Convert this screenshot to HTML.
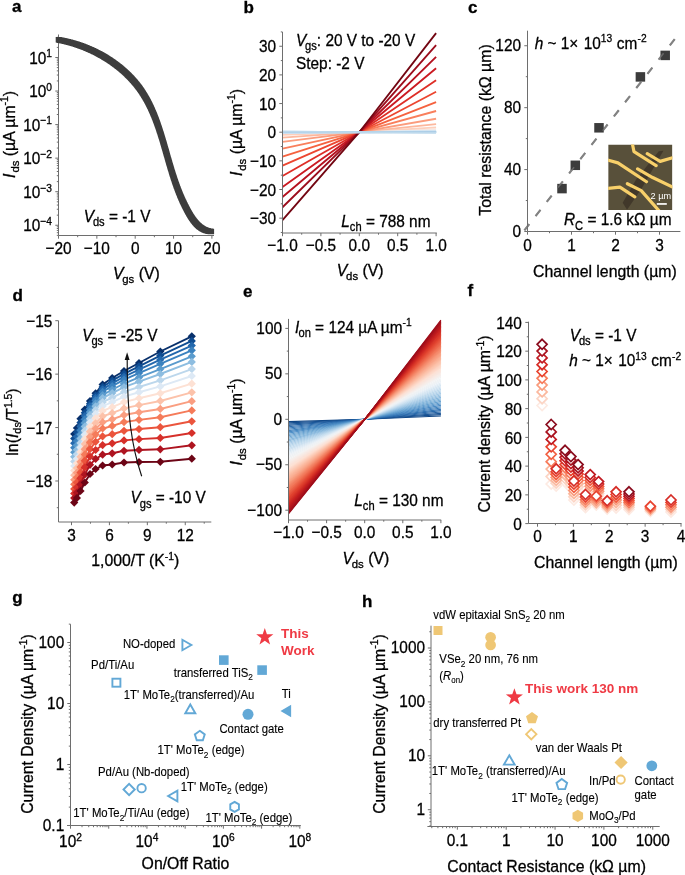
<!DOCTYPE html>
<html><head><meta charset="utf-8"><style>
html,body{margin:0;padding:0;background:#fff;}
svg{display:block;font-family:"Liberation Sans", sans-serif;will-change:transform;}
</style></head><body>
<svg width="685" height="875" viewBox="0 0 685 875">
<rect width="685" height="875" fill="#fff"/>
<text x="12" y="12" font-size="17" text-anchor="start" font-weight="bold" fill="#000" stroke="#000" stroke-width="0.3" >a</text>
<line x1="58.5" y1="235.5" x2="214" y2="235.5" stroke="#6e6e6e" stroke-width="1.0" />
<line x1="58.5" y1="235.5" x2="58.5" y2="238.7" stroke="#6e6e6e" stroke-width="1.0" />
<line x1="96.85" y1="235.5" x2="96.85" y2="238.7" stroke="#6e6e6e" stroke-width="1.0" />
<line x1="135.2" y1="235.5" x2="135.2" y2="238.7" stroke="#6e6e6e" stroke-width="1.0" />
<line x1="173.55" y1="235.5" x2="173.55" y2="238.7" stroke="#6e6e6e" stroke-width="1.0" />
<line x1="211.9" y1="235.5" x2="211.9" y2="238.7" stroke="#6e6e6e" stroke-width="1.0" />
<line x1="77.67" y1="235.5" x2="77.67" y2="237.2" stroke="#6e6e6e" stroke-width="1.0" />
<line x1="116.02" y1="235.5" x2="116.02" y2="237.2" stroke="#6e6e6e" stroke-width="1.0" />
<line x1="154.38" y1="235.5" x2="154.38" y2="237.2" stroke="#6e6e6e" stroke-width="1.0" />
<line x1="192.72" y1="235.5" x2="192.72" y2="237.2" stroke="#6e6e6e" stroke-width="1.0" />
<text transform="translate(58.5,254.1) scale(0.89,1)" font-size="17.3" text-anchor="middle" font-weight="normal" fill="#000" stroke="#000" stroke-width="0.3" >−20</text>
<text transform="translate(96.85,254.1) scale(0.89,1)" font-size="17.3" text-anchor="middle" font-weight="normal" fill="#000" stroke="#000" stroke-width="0.3" >−10</text>
<text transform="translate(135.2,254.1) scale(0.89,1)" font-size="17.3" text-anchor="middle" font-weight="normal" fill="#000" stroke="#000" stroke-width="0.3" >0</text>
<text transform="translate(173.55,254.1) scale(0.89,1)" font-size="17.3" text-anchor="middle" font-weight="normal" fill="#000" stroke="#000" stroke-width="0.3" >10</text>
<text transform="translate(211.9,254.1) scale(0.89,1)" font-size="17.3" text-anchor="middle" font-weight="normal" fill="#000" stroke="#000" stroke-width="0.3" >20</text>
<line x1="58.5" y1="34.5" x2="58.5" y2="235.5" stroke="#6e6e6e" stroke-width="1.0" />
<line x1="55.3" y1="225.25" x2="58.5" y2="225.25" stroke="#6e6e6e" stroke-width="1.0" />
<line x1="55.3" y1="191.7" x2="58.5" y2="191.7" stroke="#6e6e6e" stroke-width="1.0" />
<line x1="55.3" y1="158.15" x2="58.5" y2="158.15" stroke="#6e6e6e" stroke-width="1.0" />
<line x1="55.3" y1="124.6" x2="58.5" y2="124.6" stroke="#6e6e6e" stroke-width="1.0" />
<line x1="55.3" y1="91.05" x2="58.5" y2="91.05" stroke="#6e6e6e" stroke-width="1.0" />
<line x1="55.3" y1="57.5" x2="58.5" y2="57.5" stroke="#6e6e6e" stroke-width="1.0" />
<line x1="56.8" y1="235.35" x2="58.5" y2="235.35" stroke="#6e6e6e" stroke-width="1.0" />
<line x1="56.8" y1="232.69" x2="58.5" y2="232.69" stroke="#6e6e6e" stroke-width="1.0" />
<line x1="56.8" y1="230.45" x2="58.5" y2="230.45" stroke="#6e6e6e" stroke-width="1.0" />
<line x1="56.8" y1="228.5" x2="58.5" y2="228.5" stroke="#6e6e6e" stroke-width="1.0" />
<line x1="56.8" y1="226.79" x2="58.5" y2="226.79" stroke="#6e6e6e" stroke-width="1.0" />
<line x1="56.8" y1="215.15" x2="58.5" y2="215.15" stroke="#6e6e6e" stroke-width="1.0" />
<line x1="56.8" y1="209.24" x2="58.5" y2="209.24" stroke="#6e6e6e" stroke-width="1.0" />
<line x1="56.8" y1="205.05" x2="58.5" y2="205.05" stroke="#6e6e6e" stroke-width="1.0" />
<line x1="56.8" y1="201.8" x2="58.5" y2="201.8" stroke="#6e6e6e" stroke-width="1.0" />
<line x1="56.8" y1="199.14" x2="58.5" y2="199.14" stroke="#6e6e6e" stroke-width="1.0" />
<line x1="56.8" y1="196.9" x2="58.5" y2="196.9" stroke="#6e6e6e" stroke-width="1.0" />
<line x1="56.8" y1="194.95" x2="58.5" y2="194.95" stroke="#6e6e6e" stroke-width="1.0" />
<line x1="56.8" y1="193.24" x2="58.5" y2="193.24" stroke="#6e6e6e" stroke-width="1.0" />
<line x1="56.8" y1="181.6" x2="58.5" y2="181.6" stroke="#6e6e6e" stroke-width="1.0" />
<line x1="56.8" y1="175.69" x2="58.5" y2="175.69" stroke="#6e6e6e" stroke-width="1.0" />
<line x1="56.8" y1="171.5" x2="58.5" y2="171.5" stroke="#6e6e6e" stroke-width="1.0" />
<line x1="56.8" y1="168.25" x2="58.5" y2="168.25" stroke="#6e6e6e" stroke-width="1.0" />
<line x1="56.8" y1="165.59" x2="58.5" y2="165.59" stroke="#6e6e6e" stroke-width="1.0" />
<line x1="56.8" y1="163.35" x2="58.5" y2="163.35" stroke="#6e6e6e" stroke-width="1.0" />
<line x1="56.8" y1="161.4" x2="58.5" y2="161.4" stroke="#6e6e6e" stroke-width="1.0" />
<line x1="56.8" y1="159.69" x2="58.5" y2="159.69" stroke="#6e6e6e" stroke-width="1.0" />
<line x1="56.8" y1="148.05" x2="58.5" y2="148.05" stroke="#6e6e6e" stroke-width="1.0" />
<line x1="56.8" y1="142.14" x2="58.5" y2="142.14" stroke="#6e6e6e" stroke-width="1.0" />
<line x1="56.8" y1="137.95" x2="58.5" y2="137.95" stroke="#6e6e6e" stroke-width="1.0" />
<line x1="56.8" y1="134.7" x2="58.5" y2="134.7" stroke="#6e6e6e" stroke-width="1.0" />
<line x1="56.8" y1="132.04" x2="58.5" y2="132.04" stroke="#6e6e6e" stroke-width="1.0" />
<line x1="56.8" y1="129.8" x2="58.5" y2="129.8" stroke="#6e6e6e" stroke-width="1.0" />
<line x1="56.8" y1="127.85" x2="58.5" y2="127.85" stroke="#6e6e6e" stroke-width="1.0" />
<line x1="56.8" y1="126.14" x2="58.5" y2="126.14" stroke="#6e6e6e" stroke-width="1.0" />
<line x1="56.8" y1="114.5" x2="58.5" y2="114.5" stroke="#6e6e6e" stroke-width="1.0" />
<line x1="56.8" y1="108.59" x2="58.5" y2="108.59" stroke="#6e6e6e" stroke-width="1.0" />
<line x1="56.8" y1="104.4" x2="58.5" y2="104.4" stroke="#6e6e6e" stroke-width="1.0" />
<line x1="56.8" y1="101.15" x2="58.5" y2="101.15" stroke="#6e6e6e" stroke-width="1.0" />
<line x1="56.8" y1="98.49" x2="58.5" y2="98.49" stroke="#6e6e6e" stroke-width="1.0" />
<line x1="56.8" y1="96.25" x2="58.5" y2="96.25" stroke="#6e6e6e" stroke-width="1.0" />
<line x1="56.8" y1="94.3" x2="58.5" y2="94.3" stroke="#6e6e6e" stroke-width="1.0" />
<line x1="56.8" y1="92.59" x2="58.5" y2="92.59" stroke="#6e6e6e" stroke-width="1.0" />
<line x1="56.8" y1="80.95" x2="58.5" y2="80.95" stroke="#6e6e6e" stroke-width="1.0" />
<line x1="56.8" y1="75.04" x2="58.5" y2="75.04" stroke="#6e6e6e" stroke-width="1.0" />
<line x1="56.8" y1="70.85" x2="58.5" y2="70.85" stroke="#6e6e6e" stroke-width="1.0" />
<line x1="56.8" y1="67.6" x2="58.5" y2="67.6" stroke="#6e6e6e" stroke-width="1.0" />
<line x1="56.8" y1="64.94" x2="58.5" y2="64.94" stroke="#6e6e6e" stroke-width="1.0" />
<line x1="56.8" y1="62.7" x2="58.5" y2="62.7" stroke="#6e6e6e" stroke-width="1.0" />
<line x1="56.8" y1="60.75" x2="58.5" y2="60.75" stroke="#6e6e6e" stroke-width="1.0" />
<line x1="56.8" y1="59.04" x2="58.5" y2="59.04" stroke="#6e6e6e" stroke-width="1.0" />
<line x1="56.8" y1="47.4" x2="58.5" y2="47.4" stroke="#6e6e6e" stroke-width="1.0" />
<line x1="56.8" y1="41.49" x2="58.5" y2="41.49" stroke="#6e6e6e" stroke-width="1.0" />
<line x1="56.8" y1="37.3" x2="58.5" y2="37.3" stroke="#6e6e6e" stroke-width="1.0" />
<text transform="translate(52,231.45) scale(0.89,1)" font-size="17.3" text-anchor="end" font-weight="normal" fill="#000" stroke="#000" stroke-width="0.3" >10<tspan dy="-6.4" font-size="11.5">−4</tspan></text>
<text transform="translate(52,197.9) scale(0.89,1)" font-size="17.3" text-anchor="end" font-weight="normal" fill="#000" stroke="#000" stroke-width="0.3" >10<tspan dy="-6.4" font-size="11.5">−3</tspan></text>
<text transform="translate(52,164.35) scale(0.89,1)" font-size="17.3" text-anchor="end" font-weight="normal" fill="#000" stroke="#000" stroke-width="0.3" >10<tspan dy="-6.4" font-size="11.5">−2</tspan></text>
<text transform="translate(52,130.8) scale(0.89,1)" font-size="17.3" text-anchor="end" font-weight="normal" fill="#000" stroke="#000" stroke-width="0.3" >10<tspan dy="-6.4" font-size="11.5">−1</tspan></text>
<text transform="translate(52,97.25) scale(0.89,1)" font-size="17.3" text-anchor="end" font-weight="normal" fill="#000" stroke="#000" stroke-width="0.3" >10<tspan dy="-6.4" font-size="11.5">0</tspan></text>
<text transform="translate(52,63.7) scale(0.89,1)" font-size="17.3" text-anchor="end" font-weight="normal" fill="#000" stroke="#000" stroke-width="0.3" >10<tspan dy="-6.4" font-size="11.5">1</tspan></text>
<path d="M55.7 37.0h5.6v5.6h-5.6zM56.2 37.1h5.6v5.6h-5.6zM56.6 37.2h5.6v5.6h-5.6zM57.1 37.3h5.6v5.6h-5.6zM57.6 37.4h5.6v5.6h-5.6zM58.1 37.5h5.6v5.6h-5.6zM58.6 37.6h5.6v5.6h-5.6zM59.1 37.7h5.6v5.6h-5.6zM59.6 37.8h5.6v5.6h-5.6zM60.0 37.9h5.6v5.6h-5.6zM60.5 38.0h5.6v5.6h-5.6zM61.0 38.1h5.6v5.6h-5.6zM61.5 38.2h5.6v5.6h-5.6zM62.0 38.3h5.6v5.6h-5.6zM62.5 38.4h5.6v5.6h-5.6zM62.9 38.5h5.6v5.6h-5.6zM63.4 38.7h5.6v5.6h-5.6zM63.9 38.8h5.6v5.6h-5.6zM64.4 38.9h5.6v5.6h-5.6zM64.9 39.0h5.6v5.6h-5.6zM65.4 39.1h5.6v5.6h-5.6zM65.8 39.3h5.6v5.6h-5.6zM66.3 39.4h5.6v5.6h-5.6zM66.8 39.5h5.6v5.6h-5.6zM67.3 39.6h5.6v5.6h-5.6zM67.8 39.8h5.6v5.6h-5.6zM68.3 39.9h5.6v5.6h-5.6zM68.7 40.0h5.6v5.6h-5.6zM69.2 40.2h5.6v5.6h-5.6zM69.7 40.3h5.6v5.6h-5.6zM70.2 40.4h5.6v5.6h-5.6zM70.7 40.6h5.6v5.6h-5.6zM71.1 40.7h5.6v5.6h-5.6zM71.6 40.9h5.6v5.6h-5.6zM72.1 41.0h5.6v5.6h-5.6zM72.6 41.2h5.6v5.6h-5.6zM73.1 41.3h5.6v5.6h-5.6zM73.5 41.5h5.6v5.6h-5.6zM74.0 41.6h5.6v5.6h-5.6zM74.5 41.8h5.6v5.6h-5.6zM75.0 41.9h5.6v5.6h-5.6zM75.4 42.1h5.6v5.6h-5.6zM75.9 42.3h5.6v5.6h-5.6zM76.4 42.4h5.6v5.6h-5.6zM76.9 42.6h5.6v5.6h-5.6zM77.3 42.8h5.6v5.6h-5.6zM77.8 42.9h5.6v5.6h-5.6zM78.3 43.1h5.6v5.6h-5.6zM78.7 43.3h5.6v5.6h-5.6zM79.2 43.4h5.6v5.6h-5.6zM79.7 43.6h5.6v5.6h-5.6zM80.2 43.8h5.6v5.6h-5.6zM80.6 44.0h5.6v5.6h-5.6zM81.1 44.2h5.6v5.6h-5.6zM81.6 44.3h5.6v5.6h-5.6zM82.0 44.5h5.6v5.6h-5.6zM82.5 44.7h5.6v5.6h-5.6zM83.0 44.9h5.6v5.6h-5.6zM83.4 45.1h5.6v5.6h-5.6zM83.9 45.3h5.6v5.6h-5.6zM84.4 45.5h5.6v5.6h-5.6zM84.8 45.7h5.6v5.6h-5.6zM85.3 45.9h5.6v5.6h-5.6zM85.8 46.1h5.6v5.6h-5.6zM86.2 46.3h5.6v5.6h-5.6zM86.7 46.5h5.6v5.6h-5.6zM87.1 46.7h5.6v5.6h-5.6zM87.6 46.9h5.6v5.6h-5.6zM88.1 47.1h5.6v5.6h-5.6zM88.5 47.3h5.6v5.6h-5.6zM89.0 47.5h5.6v5.6h-5.6zM89.4 47.7h5.6v5.6h-5.6zM89.9 47.9h5.6v5.6h-5.6zM90.4 48.1h5.6v5.6h-5.6zM90.8 48.4h5.6v5.6h-5.6zM91.3 48.6h5.6v5.6h-5.6zM91.7 48.8h5.6v5.6h-5.6zM92.2 49.0h5.6v5.6h-5.6zM92.6 49.2h5.6v5.6h-5.6zM93.1 49.5h5.6v5.6h-5.6zM93.5 49.7h5.6v5.6h-5.6zM94.0 49.9h5.6v5.6h-5.6zM94.4 50.2h5.6v5.6h-5.6zM94.9 50.4h5.6v5.6h-5.6zM95.3 50.6h5.6v5.6h-5.6zM95.8 50.9h5.6v5.6h-5.6zM96.2 51.1h5.6v5.6h-5.6zM96.6 51.3h5.6v5.6h-5.6zM97.1 51.6h5.6v5.6h-5.6zM97.5 51.8h5.6v5.6h-5.6zM98.0 52.1h5.6v5.6h-5.6zM98.4 52.3h5.6v5.6h-5.6zM98.9 52.5h5.6v5.6h-5.6zM99.3 52.8h5.6v5.6h-5.6zM99.7 53.0h5.6v5.6h-5.6zM100.2 53.3h5.6v5.6h-5.6zM100.6 53.5h5.6v5.6h-5.6zM101.0 53.8h5.6v5.6h-5.6zM101.5 54.1h5.6v5.6h-5.6zM101.9 54.3h5.6v5.6h-5.6zM102.3 54.6h5.6v5.6h-5.6zM102.8 54.8h5.6v5.6h-5.6zM103.2 55.1h5.6v5.6h-5.6zM103.6 55.4h5.6v5.6h-5.6zM104.0 55.6h5.6v5.6h-5.6zM104.5 55.9h5.6v5.6h-5.6zM104.9 56.2h5.6v5.6h-5.6zM105.3 56.4h5.6v5.6h-5.6zM105.7 56.7h5.6v5.6h-5.6zM106.2 57.0h5.6v5.6h-5.6zM106.6 57.3h5.6v5.6h-5.6zM107.0 57.5h5.6v5.6h-5.6zM107.4 57.8h5.6v5.6h-5.6zM107.8 58.1h5.6v5.6h-5.6zM108.3 58.4h5.6v5.6h-5.6zM108.7 58.7h5.6v5.6h-5.6zM109.1 58.9h5.6v5.6h-5.6zM109.5 59.2h5.6v5.6h-5.6zM109.9 59.5h5.6v5.6h-5.6zM110.3 59.8h5.6v5.6h-5.6zM110.7 60.1h5.6v5.6h-5.6zM111.1 60.4h5.6v5.6h-5.6zM111.5 60.7h5.6v5.6h-5.6zM111.9 61.0h5.6v5.6h-5.6zM112.3 61.3h5.6v5.6h-5.6zM112.7 61.6h5.6v5.6h-5.6zM113.2 61.9h5.6v5.6h-5.6zM113.6 62.2h5.6v5.6h-5.6zM113.9 62.5h5.6v5.6h-5.6zM114.3 62.8h5.6v5.6h-5.6zM114.7 63.1h5.6v5.6h-5.6zM115.1 63.4h5.6v5.6h-5.6zM115.5 63.7h5.6v5.6h-5.6zM115.9 64.0h5.6v5.6h-5.6zM116.3 64.3h5.6v5.6h-5.6zM116.7 64.6h5.6v5.6h-5.6zM117.1 65.0h5.6v5.6h-5.6zM117.5 65.3h5.6v5.6h-5.6zM117.9 65.6h5.6v5.6h-5.6zM118.2 65.9h5.6v5.6h-5.6zM118.6 66.2h5.6v5.6h-5.6zM119.0 66.6h5.6v5.6h-5.6zM119.4 66.9h5.6v5.6h-5.6zM119.8 67.2h5.6v5.6h-5.6zM120.1 67.5h5.6v5.6h-5.6zM120.5 67.9h5.6v5.6h-5.6zM120.9 68.2h5.6v5.6h-5.6zM121.3 68.5h5.6v5.6h-5.6zM121.6 68.9h5.6v5.6h-5.6zM122.0 69.2h5.6v5.6h-5.6zM122.4 69.5h5.6v5.6h-5.6zM122.7 69.9h5.6v5.6h-5.6zM123.1 70.2h5.6v5.6h-5.6zM123.5 70.5h5.6v5.6h-5.6zM123.8 70.9h5.6v5.6h-5.6zM124.2 71.2h5.6v5.6h-5.6zM124.5 71.6h5.6v5.6h-5.6zM124.9 71.9h5.6v5.6h-5.6zM125.2 72.3h5.6v5.6h-5.6zM125.6 72.6h5.6v5.6h-5.6zM125.9 73.0h5.6v5.6h-5.6zM126.3 73.3h5.6v5.6h-5.6zM126.6 73.7h5.6v5.6h-5.6zM127.0 74.0h5.6v5.6h-5.6zM127.3 74.4h5.6v5.6h-5.6zM127.7 74.7h5.6v5.6h-5.6zM128.0 75.1h5.6v5.6h-5.6zM128.4 75.5h5.6v5.6h-5.6zM128.7 75.8h5.6v5.6h-5.6zM129.0 76.2h5.6v5.6h-5.6zM129.4 76.6h5.6v5.6h-5.6zM129.7 76.9h5.6v5.6h-5.6zM130.0 77.3h5.6v5.6h-5.6zM130.4 77.7h5.6v5.6h-5.6zM130.7 78.0h5.6v5.6h-5.6zM131.0 78.4h5.6v5.6h-5.6zM131.3 78.8h5.6v5.6h-5.6zM131.7 79.1h5.6v5.6h-5.6zM132.0 79.5h5.6v5.6h-5.6zM132.3 79.9h5.6v5.6h-5.6zM132.6 80.3h5.6v5.6h-5.6zM132.9 80.7h5.6v5.6h-5.6zM133.2 81.0h5.6v5.6h-5.6zM133.6 81.4h5.6v5.6h-5.6zM133.9 81.8h5.6v5.6h-5.6zM134.2 82.2h5.6v5.6h-5.6zM134.5 82.6h5.6v5.6h-5.6zM134.8 83.0h5.6v5.6h-5.6zM135.1 83.4h5.6v5.6h-5.6zM135.4 83.8h5.6v5.6h-5.6zM135.7 84.1h5.6v5.6h-5.6zM136.0 84.5h5.6v5.6h-5.6zM136.3 84.9h5.6v5.6h-5.6zM136.6 85.3h5.6v5.6h-5.6zM136.9 85.7h5.6v5.6h-5.6zM137.1 86.1h5.6v5.6h-5.6zM137.4 86.5h5.6v5.6h-5.6zM137.7 86.9h5.6v5.6h-5.6zM138.0 87.3h5.6v5.6h-5.6zM138.3 87.7h5.6v5.6h-5.6zM138.6 88.1h5.6v5.6h-5.6zM138.8 88.5h5.6v5.6h-5.6zM139.1 89.0h5.6v5.6h-5.6zM139.4 89.4h5.6v5.6h-5.6zM139.6 89.8h5.6v5.6h-5.6zM139.9 90.2h5.6v5.6h-5.6zM140.2 90.6h5.6v5.6h-5.6zM140.4 91.0h5.6v5.6h-5.6zM140.7 91.4h5.6v5.6h-5.6zM141.0 91.9h5.6v5.6h-5.6zM141.2 92.3h5.6v5.6h-5.6zM141.5 92.7h5.6v5.6h-5.6zM141.7 93.1h5.6v5.6h-5.6zM142.0 93.5h5.6v5.6h-5.6zM142.2 94.0h5.6v5.6h-5.6zM142.5 94.4h5.6v5.6h-5.6zM142.7 94.8h5.6v5.6h-5.6zM143.0 95.2h5.6v5.6h-5.6zM143.2 95.7h5.6v5.6h-5.6zM143.5 96.1h5.6v5.6h-5.6zM143.7 96.5h5.6v5.6h-5.6zM144.0 96.9h5.6v5.6h-5.6zM144.2 97.4h5.6v5.6h-5.6zM144.4 97.8h5.6v5.6h-5.6zM144.7 98.2h5.6v5.6h-5.6zM144.9 98.7h5.6v5.6h-5.6zM145.1 99.1h5.6v5.6h-5.6zM145.4 99.6h5.6v5.6h-5.6zM145.6 100.0h5.6v5.6h-5.6zM145.8 100.4h5.6v5.6h-5.6zM146.0 100.9h5.6v5.6h-5.6zM146.3 101.3h5.6v5.6h-5.6zM146.5 101.8h5.6v5.6h-5.6zM146.7 102.2h5.6v5.6h-5.6zM146.9 102.6h5.6v5.6h-5.6zM147.1 103.1h5.6v5.6h-5.6zM147.3 103.5h5.6v5.6h-5.6zM147.6 104.0h5.6v5.6h-5.6zM147.8 104.4h5.6v5.6h-5.6zM148.0 104.9h5.6v5.6h-5.6zM148.2 105.3h5.6v5.6h-5.6zM148.4 105.8h5.6v5.6h-5.6zM148.6 106.2h5.6v5.6h-5.6zM148.8 106.7h5.6v5.6h-5.6zM149.0 107.1h5.6v5.6h-5.6zM149.2 107.6h5.6v5.6h-5.6zM149.4 108.0h5.6v5.6h-5.6zM149.6 108.5h5.6v5.6h-5.6zM149.8 109.0h5.6v5.6h-5.6zM150.0 109.4h5.6v5.6h-5.6zM150.2 109.9h5.6v5.6h-5.6zM150.4 110.3h5.6v5.6h-5.6zM150.6 110.8h5.6v5.6h-5.6zM150.8 111.3h5.6v5.6h-5.6zM151.0 111.7h5.6v5.6h-5.6zM151.2 112.2h5.6v5.6h-5.6zM151.4 112.6h5.6v5.6h-5.6zM151.6 113.1h5.6v5.6h-5.6zM151.7 113.6h5.6v5.6h-5.6zM151.9 114.0h5.6v5.6h-5.6zM152.1 114.5h5.6v5.6h-5.6zM152.3 115.0h5.6v5.6h-5.6zM152.5 115.4h5.6v5.6h-5.6zM152.7 115.9h5.6v5.6h-5.6zM152.8 116.4h5.6v5.6h-5.6zM153.0 116.8h5.6v5.6h-5.6zM153.2 117.3h5.6v5.6h-5.6zM153.4 117.8h5.6v5.6h-5.6zM153.5 118.2h5.6v5.6h-5.6zM153.7 118.7h5.6v5.6h-5.6zM153.9 119.2h5.6v5.6h-5.6zM154.1 119.7h5.6v5.6h-5.6zM154.2 120.1h5.6v5.6h-5.6zM154.4 120.6h5.6v5.6h-5.6zM154.6 121.1h5.6v5.6h-5.6zM154.7 121.6h5.6v5.6h-5.6zM154.9 122.0h5.6v5.6h-5.6zM155.1 122.5h5.6v5.6h-5.6zM155.2 123.0h5.6v5.6h-5.6zM155.4 123.5h5.6v5.6h-5.6zM155.6 123.9h5.6v5.6h-5.6zM155.7 124.4h5.6v5.6h-5.6zM155.9 124.9h5.6v5.6h-5.6zM156.1 125.4h5.6v5.6h-5.6zM156.2 125.8h5.6v5.6h-5.6zM156.4 126.3h5.6v5.6h-5.6zM156.5 126.8h5.6v5.6h-5.6zM156.7 127.3h5.6v5.6h-5.6zM156.8 127.8h5.6v5.6h-5.6zM157.0 128.2h5.6v5.6h-5.6zM157.2 128.7h5.6v5.6h-5.6zM157.3 129.2h5.6v5.6h-5.6zM157.5 129.7h5.6v5.6h-5.6zM157.6 130.2h5.6v5.6h-5.6zM157.8 130.7h5.6v5.6h-5.6zM157.9 131.1h5.6v5.6h-5.6zM158.1 131.6h5.6v5.6h-5.6zM158.2 132.1h5.6v5.6h-5.6zM158.4 132.6h5.6v5.6h-5.6zM158.5 133.1h5.6v5.6h-5.6zM158.7 133.5h5.6v5.6h-5.6zM158.8 134.0h5.6v5.6h-5.6zM159.0 134.5h5.6v5.6h-5.6zM159.1 135.0h5.6v5.6h-5.6zM159.3 135.5h5.6v5.6h-5.6zM159.4 136.0h5.6v5.6h-5.6zM159.6 136.5h5.6v5.6h-5.6zM159.7 136.9h5.6v5.6h-5.6zM159.9 137.4h5.6v5.6h-5.6zM160.0 137.9h5.6v5.6h-5.6zM160.2 138.4h5.6v5.6h-5.6zM160.3 138.9h5.6v5.6h-5.6zM160.4 139.4h5.6v5.6h-5.6zM160.6 139.9h5.6v5.6h-5.6zM160.7 140.3h5.6v5.6h-5.6zM160.9 140.8h5.6v5.6h-5.6zM161.0 141.3h5.6v5.6h-5.6zM161.2 141.8h5.6v5.6h-5.6zM161.3 142.3h5.6v5.6h-5.6zM161.4 142.8h5.6v5.6h-5.6zM161.6 143.3h5.6v5.6h-5.6zM161.7 143.8h5.6v5.6h-5.6zM161.9 144.2h5.6v5.6h-5.6zM162.0 144.7h5.6v5.6h-5.6zM162.1 145.2h5.6v5.6h-5.6zM162.3 145.7h5.6v5.6h-5.6zM162.4 146.2h5.6v5.6h-5.6zM162.6 146.7h5.6v5.6h-5.6zM162.7 147.2h5.6v5.6h-5.6zM162.8 147.6h5.6v5.6h-5.6zM163.0 148.1h5.6v5.6h-5.6zM163.1 148.6h5.6v5.6h-5.6zM163.3 149.1h5.6v5.6h-5.6zM163.4 149.6h5.6v5.6h-5.6zM163.5 150.1h5.6v5.6h-5.6zM163.7 150.6h5.6v5.6h-5.6zM163.8 151.1h5.6v5.6h-5.6zM164.0 151.5h5.6v5.6h-5.6zM164.1 152.0h5.6v5.6h-5.6zM164.2 152.5h5.6v5.6h-5.6zM164.4 153.0h5.6v5.6h-5.6zM164.5 153.5h5.6v5.6h-5.6zM164.6 154.0h5.6v5.6h-5.6zM164.8 154.5h5.6v5.6h-5.6zM164.9 154.9h5.6v5.6h-5.6zM165.1 155.4h5.6v5.6h-5.6zM165.2 155.9h5.6v5.6h-5.6zM165.3 156.4h5.6v5.6h-5.6zM165.5 156.9h5.6v5.6h-5.6zM165.6 157.4h5.6v5.6h-5.6zM165.8 157.8h5.6v5.6h-5.6zM165.9 158.3h5.6v5.6h-5.6zM166.0 158.8h5.6v5.6h-5.6zM166.2 159.3h5.6v5.6h-5.6zM166.3 159.8h5.6v5.6h-5.6zM166.5 160.3h5.6v5.6h-5.6zM166.6 160.7h5.6v5.6h-5.6zM166.7 161.2h5.6v5.6h-5.6zM166.9 161.7h5.6v5.6h-5.6zM167.0 162.2h5.6v5.6h-5.6zM167.2 162.7h5.6v5.6h-5.6zM167.3 163.1h5.6v5.6h-5.6zM167.4 163.6h5.6v5.6h-5.6zM167.6 164.1h5.6v5.6h-5.6zM167.7 164.6h5.6v5.6h-5.6zM167.9 165.1h5.6v5.6h-5.6zM168.0 165.5h5.6v5.6h-5.6zM168.2 166.0h5.6v5.6h-5.6zM168.3 166.5h5.6v5.6h-5.6zM168.5 167.0h5.6v5.6h-5.6zM168.6 167.5h5.6v5.6h-5.6zM168.7 167.9h5.6v5.6h-5.6zM168.9 168.4h5.6v5.6h-5.6zM169.0 168.9h5.6v5.6h-5.6zM169.2 169.4h5.6v5.6h-5.6zM169.3 169.8h5.6v5.6h-5.6zM169.5 170.3h5.6v5.6h-5.6zM169.6 170.8h5.6v5.6h-5.6zM169.8 171.3h5.6v5.6h-5.6zM169.9 171.7h5.6v5.6h-5.6zM170.1 172.2h5.6v5.6h-5.6zM170.2 172.7h5.6v5.6h-5.6zM170.4 173.2h5.6v5.6h-5.6zM170.5 173.6h5.6v5.6h-5.6zM170.7 174.1h5.6v5.6h-5.6zM170.8 174.6h5.6v5.6h-5.6zM171.0 175.1h5.6v5.6h-5.6zM171.2 175.5h5.6v5.6h-5.6zM171.3 176.0h5.6v5.6h-5.6zM171.5 176.5h5.6v5.6h-5.6zM171.6 177.0h5.6v5.6h-5.6zM171.8 177.4h5.6v5.6h-5.6zM171.9 177.9h5.6v5.6h-5.6zM172.1 178.4h5.6v5.6h-5.6zM172.3 178.8h5.6v5.6h-5.6zM172.4 179.3h5.6v5.6h-5.6zM172.6 179.8h5.6v5.6h-5.6zM172.7 180.2h5.6v5.6h-5.6zM172.9 180.7h5.6v5.6h-5.6zM173.1 181.2h5.6v5.6h-5.6zM173.2 181.7h5.6v5.6h-5.6zM173.4 182.1h5.6v5.6h-5.6zM173.6 182.6h5.6v5.6h-5.6zM173.7 183.1h5.6v5.6h-5.6zM173.9 183.5h5.6v5.6h-5.6zM174.1 184.0h5.6v5.6h-5.6zM174.3 184.5h5.6v5.6h-5.6zM174.4 184.9h5.6v5.6h-5.6zM174.6 185.4h5.6v5.6h-5.6zM174.8 185.9h5.6v5.6h-5.6zM175.0 186.3h5.6v5.6h-5.6zM175.1 186.8h5.6v5.6h-5.6zM175.3 187.2h5.6v5.6h-5.6zM175.5 187.7h5.6v5.6h-5.6zM175.7 188.2h5.6v5.6h-5.6zM175.8 188.6h5.6v5.6h-5.6zM176.0 189.1h5.6v5.6h-5.6zM176.2 189.6h5.6v5.6h-5.6zM176.4 190.0h5.6v5.6h-5.6zM176.6 190.5h5.6v5.6h-5.6zM176.8 190.9h5.6v5.6h-5.6zM177.0 191.4h5.6v5.6h-5.6zM177.1 191.9h5.6v5.6h-5.6zM177.3 192.3h5.6v5.6h-5.6zM177.5 192.8h5.6v5.6h-5.6zM177.7 193.2h5.6v5.6h-5.6zM177.9 193.7h5.6v5.6h-5.6zM178.1 194.2h5.6v5.6h-5.6zM178.3 194.6h5.6v5.6h-5.6zM178.5 195.1h5.6v5.6h-5.6zM178.7 195.5h5.6v5.6h-5.6zM178.9 196.0h5.6v5.6h-5.6zM179.1 196.5h5.6v5.6h-5.6zM179.3 196.9h5.6v5.6h-5.6zM179.5 197.4h5.6v5.6h-5.6zM179.7 197.8h5.6v5.6h-5.6zM179.9 198.3h5.6v5.6h-5.6zM180.1 198.7h5.6v5.6h-5.6zM180.3 199.2h5.6v5.6h-5.6zM180.6 199.6h5.6v5.6h-5.6zM180.8 200.1h5.6v5.6h-5.6zM181.0 200.5h5.6v5.6h-5.6zM181.2 201.0h5.6v5.6h-5.6zM181.4 201.4h5.6v5.6h-5.6zM181.6 201.9h5.6v5.6h-5.6zM181.9 202.3h5.6v5.6h-5.6zM182.1 202.8h5.6v5.6h-5.6zM182.3 203.2h5.6v5.6h-5.6zM182.5 203.7h5.6v5.6h-5.6zM182.8 204.1h5.6v5.6h-5.6zM183.0 204.6h5.6v5.6h-5.6zM183.2 205.0h5.6v5.6h-5.6zM183.5 205.5h5.6v5.6h-5.6zM183.7 205.9h5.6v5.6h-5.6zM183.9 206.4h5.6v5.6h-5.6zM184.2 206.8h5.6v5.6h-5.6zM184.4 207.3h5.6v5.6h-5.6zM184.6 207.7h5.6v5.6h-5.6zM184.9 208.2h5.6v5.6h-5.6zM185.1 208.6h5.6v5.6h-5.6zM185.4 209.1h5.6v5.6h-5.6zM185.6 209.5h5.6v5.6h-5.6zM185.9 209.9h5.6v5.6h-5.6zM186.1 210.4h5.6v5.6h-5.6zM186.4 210.8h5.6v5.6h-5.6zM186.6 211.3h5.6v5.6h-5.6zM186.9 211.7h5.6v5.6h-5.6zM187.1 212.1h5.6v5.6h-5.6zM187.4 212.6h5.6v5.6h-5.6zM187.7 213.0h5.6v5.6h-5.6zM187.9 213.4h5.6v5.6h-5.6zM188.2 213.9h5.6v5.6h-5.6zM188.5 214.3h5.6v5.6h-5.6zM188.8 214.7h5.6v5.6h-5.6zM189.0 215.1h5.6v5.6h-5.6zM189.3 215.5h5.6v5.6h-5.6zM189.6 216.0h5.6v5.6h-5.6zM189.9 216.4h5.6v5.6h-5.6zM190.2 216.8h5.6v5.6h-5.6zM190.5 217.2h5.6v5.6h-5.6zM190.8 217.6h5.6v5.6h-5.6zM191.1 218.0h5.6v5.6h-5.6zM191.4 218.4h5.6v5.6h-5.6zM191.7 218.7h5.6v5.6h-5.6zM192.0 219.1h5.6v5.6h-5.6zM192.3 219.5h5.6v5.6h-5.6zM192.6 219.9h5.6v5.6h-5.6zM192.9 220.2h5.6v5.6h-5.6zM193.3 220.6h5.6v5.6h-5.6zM193.6 221.0h5.6v5.6h-5.6zM193.9 221.3h5.6v5.6h-5.6zM194.3 221.7h5.6v5.6h-5.6zM194.6 222.0h5.6v5.6h-5.6zM194.9 222.3h5.6v5.6h-5.6zM195.3 222.7h5.6v5.6h-5.6zM195.6 223.0h5.6v5.6h-5.6zM196.0 223.3h5.6v5.6h-5.6zM196.4 223.6h5.6v5.6h-5.6zM196.7 223.9h5.6v5.6h-5.6zM197.1 224.2h5.6v5.6h-5.6zM197.5 224.5h5.6v5.6h-5.6zM197.9 224.7h5.6v5.6h-5.6zM198.2 225.0h5.6v5.6h-5.6zM198.6 225.3h5.6v5.6h-5.6zM199.0 225.5h5.6v5.6h-5.6zM199.4 225.8h5.6v5.6h-5.6zM199.8 226.0h5.6v5.6h-5.6zM200.2 226.2h5.6v5.6h-5.6zM200.6 226.5h5.6v5.6h-5.6zM201.1 226.7h5.6v5.6h-5.6zM201.5 226.9h5.6v5.6h-5.6zM201.9 227.1h5.6v5.6h-5.6zM202.4 227.2h5.6v5.6h-5.6zM202.8 227.4h5.6v5.6h-5.6zM203.2 227.6h5.6v5.6h-5.6zM203.7 227.7h5.6v5.6h-5.6zM204.2 227.9h5.6v5.6h-5.6zM204.6 228.0h5.6v5.6h-5.6zM205.1 228.1h5.6v5.6h-5.6zM205.6 228.3h5.6v5.6h-5.6zM206.0 228.4h5.6v5.6h-5.6zM206.5 228.4h5.6v5.6h-5.6zM207.0 228.5h5.6v5.6h-5.6zM207.5 228.6h5.6v5.6h-5.6zM208.0 228.7h5.6v5.6h-5.6zM208.5 228.7h5.6v5.6h-5.6z" fill="#3d3d3d"/>
<text transform="translate(83.8,221.9) scale(0.89,1)" font-size="17.3" text-anchor="start" font-weight="normal" fill="#000" stroke="#000" stroke-width="0.3" ><tspan font-style="italic">V</tspan><tspan dx="-1.3" dy="4.2" font-size="12.5">ds</tspan><tspan dy="-4.2"> = -1 V</tspan></text>
<text transform="translate(113,279.2) scale(0.99,1)" font-size="16" text-anchor="start" font-weight="normal" fill="#000" stroke="#000" stroke-width="0.3" ><tspan font-style="italic">V</tspan><tspan dx="-1.3" dy="3.8" font-size="11.5">gs</tspan><tspan dy="-3.8"> (V)</tspan></text>
<text transform="translate(14.7,134.4) rotate(-90) scale(0.99,1)" x="0" y="0" font-size="16" text-anchor="middle" fill="#000" stroke="#000" stroke-width="0.3"><tspan font-style="italic">I</tspan><tspan dx="0.9" dy="3.8" font-size="11.5">ds</tspan><tspan dy="-3.8"> (</tspan>µA µm<tspan dy="-6.5" font-size="10.5">-1</tspan><tspan dy="6.5">)</tspan></text>
<text x="243.5" y="13" font-size="17" text-anchor="start" font-weight="bold" fill="#000" stroke="#000" stroke-width="0.3" >b</text>
<polyline points="282.5,133.63 359.3,132.2 436.1,129.33" fill="none" stroke="#f8e3da" stroke-width="1.85"/>
<polyline points="282.5,134.78 359.3,132.2 436.1,127.33" fill="none" stroke="#fdd0bd" stroke-width="1.85"/>
<polyline points="282.5,137.64 359.3,132.2 436.1,124.18" fill="none" stroke="#fcb89e" stroke-width="1.85"/>
<polyline points="282.5,141.94 359.3,132.2 436.1,118.73" fill="none" stroke="#fb9c7d" stroke-width="1.85"/>
<polyline points="282.5,148.53 359.3,132.2 436.1,111" fill="none" stroke="#f97f5c" stroke-width="1.85"/>
<polyline points="282.5,156.55 359.3,132.2 436.1,102.12" fill="none" stroke="#f5623f" stroke-width="1.85"/>
<polyline points="282.5,165.72 359.3,132.2 436.1,91.8" fill="none" stroke="#ec4630" stroke-width="1.85"/>
<polyline points="282.5,176.03 359.3,132.2 436.1,80.34" fill="none" stroke="#de2e27" stroke-width="1.85"/>
<polyline points="282.5,186.92 359.3,132.2 436.1,68.31" fill="none" stroke="#cb1a22" stroke-width="1.85"/>
<polyline points="282.5,196.95 359.3,132.2 436.1,56.85" fill="none" stroke="#b5111f" stroke-width="1.85"/>
<polyline points="282.5,207.26 359.3,132.2 436.1,45.1" fill="none" stroke="#9c0d1d" stroke-width="1.85"/>
<polyline points="282.5,220.16 359.3,132.2 436.1,33.07" fill="none" stroke="#730612" stroke-width="1.85"/>
<polyline points="282.5,133.06 359.3,132.2 436.1,130.48" fill="none" stroke="#edf1f5" stroke-width="1.85"/>
<polyline points="282.5,132.77 359.3,132.2 436.1,131" fill="none" stroke="#e0ebf4" stroke-width="1.85"/>
<polyline points="282.5,132.54 359.3,132.2 436.1,131.28" fill="none" stroke="#d2e4f1" stroke-width="1.85"/>
<polyline points="282.5,132.34 359.3,132.2 436.1,131.57" fill="none" stroke="#c4dbed" stroke-width="1.85"/>
<polyline points="282.5,132.2 359.3,132.2 436.1,131.8" fill="none" stroke="#b5d2e9" stroke-width="1.85"/>
<polyline points="282.5,132.06 359.3,132.2 436.1,132" fill="none" stroke="#a9cbe5" stroke-width="1.85"/>
<polyline points="282.5,131.91 359.3,132.2 436.1,132.2" fill="none" stroke="#9dc4e2" stroke-width="1.85"/>
<polyline points="282.5,131.77 359.3,132.2 436.1,132.4" fill="none" stroke="#abcde7" stroke-width="1.85"/>
<polyline points="282.5,131.63 359.3,132.2 436.1,132.6" fill="none" stroke="#bdd9ec" stroke-width="1.85"/>
<line x1="282.5" y1="233" x2="436.8" y2="233" stroke="#6e6e6e" stroke-width="1.0" />
<line x1="282.5" y1="233" x2="282.5" y2="236.2" stroke="#6e6e6e" stroke-width="1.0" />
<line x1="320.9" y1="233" x2="320.9" y2="236.2" stroke="#6e6e6e" stroke-width="1.0" />
<line x1="359.3" y1="233" x2="359.3" y2="236.2" stroke="#6e6e6e" stroke-width="1.0" />
<line x1="397.7" y1="233" x2="397.7" y2="236.2" stroke="#6e6e6e" stroke-width="1.0" />
<line x1="436.1" y1="233" x2="436.1" y2="236.2" stroke="#6e6e6e" stroke-width="1.0" />
<line x1="301.7" y1="233" x2="301.7" y2="234.7" stroke="#6e6e6e" stroke-width="1.0" />
<line x1="340.1" y1="233" x2="340.1" y2="234.7" stroke="#6e6e6e" stroke-width="1.0" />
<line x1="378.5" y1="233" x2="378.5" y2="234.7" stroke="#6e6e6e" stroke-width="1.0" />
<line x1="416.9" y1="233" x2="416.9" y2="234.7" stroke="#6e6e6e" stroke-width="1.0" />
<text transform="translate(282.5,251.2) scale(0.89,1)" font-size="17.3" text-anchor="middle" font-weight="normal" fill="#000" stroke="#000" stroke-width="0.3" >−1.0</text>
<text transform="translate(320.9,251.2) scale(0.89,1)" font-size="17.3" text-anchor="middle" font-weight="normal" fill="#000" stroke="#000" stroke-width="0.3" >−0.5</text>
<text transform="translate(359.3,251.2) scale(0.89,1)" font-size="17.3" text-anchor="middle" font-weight="normal" fill="#000" stroke="#000" stroke-width="0.3" >0.0</text>
<text transform="translate(397.7,251.2) scale(0.89,1)" font-size="17.3" text-anchor="middle" font-weight="normal" fill="#000" stroke="#000" stroke-width="0.3" >0.5</text>
<text transform="translate(436.1,251.2) scale(0.89,1)" font-size="17.3" text-anchor="middle" font-weight="normal" fill="#000" stroke="#000" stroke-width="0.3" >1.0</text>
<line x1="282.5" y1="32" x2="282.5" y2="233" stroke="#6e6e6e" stroke-width="1.0" />
<line x1="279.3" y1="218.15" x2="282.5" y2="218.15" stroke="#6e6e6e" stroke-width="1.0" />
<line x1="279.3" y1="189.5" x2="282.5" y2="189.5" stroke="#6e6e6e" stroke-width="1.0" />
<line x1="279.3" y1="160.85" x2="282.5" y2="160.85" stroke="#6e6e6e" stroke-width="1.0" />
<line x1="279.3" y1="132.2" x2="282.5" y2="132.2" stroke="#6e6e6e" stroke-width="1.0" />
<line x1="279.3" y1="103.55" x2="282.5" y2="103.55" stroke="#6e6e6e" stroke-width="1.0" />
<line x1="279.3" y1="74.9" x2="282.5" y2="74.9" stroke="#6e6e6e" stroke-width="1.0" />
<line x1="279.3" y1="46.25" x2="282.5" y2="46.25" stroke="#6e6e6e" stroke-width="1.0" />
<line x1="280.8" y1="232.47" x2="282.5" y2="232.47" stroke="#6e6e6e" stroke-width="1.0" />
<line x1="280.8" y1="203.82" x2="282.5" y2="203.82" stroke="#6e6e6e" stroke-width="1.0" />
<line x1="280.8" y1="175.17" x2="282.5" y2="175.17" stroke="#6e6e6e" stroke-width="1.0" />
<line x1="280.8" y1="146.52" x2="282.5" y2="146.52" stroke="#6e6e6e" stroke-width="1.0" />
<line x1="280.8" y1="117.87" x2="282.5" y2="117.87" stroke="#6e6e6e" stroke-width="1.0" />
<line x1="280.8" y1="89.22" x2="282.5" y2="89.22" stroke="#6e6e6e" stroke-width="1.0" />
<line x1="280.8" y1="60.57" x2="282.5" y2="60.57" stroke="#6e6e6e" stroke-width="1.0" />
<line x1="280.8" y1="31.92" x2="282.5" y2="31.92" stroke="#6e6e6e" stroke-width="1.0" />
<text transform="translate(276,224.35) scale(0.89,1)" font-size="17.3" text-anchor="end" font-weight="normal" fill="#000" stroke="#000" stroke-width="0.3" >−30</text>
<text transform="translate(276,195.7) scale(0.89,1)" font-size="17.3" text-anchor="end" font-weight="normal" fill="#000" stroke="#000" stroke-width="0.3" >−20</text>
<text transform="translate(276,167.05) scale(0.89,1)" font-size="17.3" text-anchor="end" font-weight="normal" fill="#000" stroke="#000" stroke-width="0.3" >−10</text>
<text transform="translate(276,138.4) scale(0.89,1)" font-size="17.3" text-anchor="end" font-weight="normal" fill="#000" stroke="#000" stroke-width="0.3" >0</text>
<text transform="translate(276,109.75) scale(0.89,1)" font-size="17.3" text-anchor="end" font-weight="normal" fill="#000" stroke="#000" stroke-width="0.3" >10</text>
<text transform="translate(276,81.1) scale(0.89,1)" font-size="17.3" text-anchor="end" font-weight="normal" fill="#000" stroke="#000" stroke-width="0.3" >20</text>
<text transform="translate(276,52.45) scale(0.89,1)" font-size="17.3" text-anchor="end" font-weight="normal" fill="#000" stroke="#000" stroke-width="0.3" >30</text>
<text transform="translate(296,45.9) scale(0.89,1)" font-size="17.3" text-anchor="start" font-weight="normal" fill="#000" stroke="#000" stroke-width="0.3" ><tspan font-style="italic">V</tspan><tspan dx="-1.3" dy="4.2" font-size="12.5">gs</tspan><tspan dy="-4.2">: 20 V to -20 V</tspan></text>
<text transform="translate(296,69.2) scale(0.89,1)" font-size="17.3" text-anchor="start" font-weight="normal" fill="#000" stroke="#000" stroke-width="0.3" >Step: -2 V</text>
<text transform="translate(341.3,226.5) scale(0.89,1)" font-size="17.3" text-anchor="start" font-weight="normal" fill="#000" stroke="#000" stroke-width="0.3" ><tspan font-style="italic">L</tspan><tspan dx="0" dy="4.2" font-size="12.5">ch</tspan><tspan dy="-4.2"> = 788 nm</tspan></text>
<text transform="translate(336.8,275.9) scale(0.99,1)" font-size="16" text-anchor="start" font-weight="normal" fill="#000" stroke="#000" stroke-width="0.3" ><tspan font-style="italic">V</tspan><tspan dx="-1.3" dy="3.8" font-size="11.5">ds</tspan><tspan dy="-3.8"> (V)</tspan></text>
<text transform="translate(241.9,132.5) rotate(-90) scale(0.99,1)" x="0" y="0" font-size="16" text-anchor="middle" fill="#000" stroke="#000" stroke-width="0.3"><tspan font-style="italic">I</tspan><tspan dx="0.9" dy="3.8" font-size="11.5">ds</tspan><tspan dy="-3.8"> (</tspan>µA µm<tspan dy="-6.5" font-size="10.5">-1</tspan><tspan dy="6.5">)</tspan></text>
<text x="468" y="13" font-size="17" text-anchor="start" font-weight="bold" fill="#000" stroke="#000" stroke-width="0.3" >c</text>
<line x1="524.4" y1="230.3" x2="678.6" y2="34.2" stroke="#7a7a7a" stroke-width="2.1" stroke-dasharray="7.9 10.2"/>
<rect x="557.25" y="183.85" width="9.5" height="9.5" fill="#3c3c3c"/>
<rect x="570.55" y="160.55" width="9.5" height="9.5" fill="#3c3c3c"/>
<rect x="594.25" y="123.05" width="9.5" height="9.5" fill="#3c3c3c"/>
<rect x="635.65" y="72.15" width="9.5" height="9.5" fill="#3c3c3c"/>
<rect x="660.45" y="50.65" width="9.5" height="9.5" fill="#3c3c3c"/>
<line x1="524.4" y1="230.3" x2="678.6" y2="34.2" stroke="#8a8a8a" stroke-width="1.6" stroke-dasharray="7.9 10.2" opacity="0.55"/>
<line x1="527.5" y1="231.5" x2="680.4" y2="231.5" stroke="#6e6e6e" stroke-width="1.0" />
<line x1="527.5" y1="231.5" x2="527.5" y2="234.7" stroke="#6e6e6e" stroke-width="1.0" />
<line x1="571.5" y1="231.5" x2="571.5" y2="234.7" stroke="#6e6e6e" stroke-width="1.0" />
<line x1="615.5" y1="231.5" x2="615.5" y2="234.7" stroke="#6e6e6e" stroke-width="1.0" />
<line x1="659.5" y1="231.5" x2="659.5" y2="234.7" stroke="#6e6e6e" stroke-width="1.0" />
<line x1="549.5" y1="231.5" x2="549.5" y2="233.2" stroke="#6e6e6e" stroke-width="1.0" />
<line x1="593.5" y1="231.5" x2="593.5" y2="233.2" stroke="#6e6e6e" stroke-width="1.0" />
<line x1="637.5" y1="231.5" x2="637.5" y2="233.2" stroke="#6e6e6e" stroke-width="1.0" />
<text transform="translate(527.5,251.2) scale(0.89,1)" font-size="17.3" text-anchor="middle" font-weight="normal" fill="#000" stroke="#000" stroke-width="0.3" >0</text>
<text transform="translate(571.5,251.2) scale(0.89,1)" font-size="17.3" text-anchor="middle" font-weight="normal" fill="#000" stroke="#000" stroke-width="0.3" >1</text>
<text transform="translate(615.5,251.2) scale(0.89,1)" font-size="17.3" text-anchor="middle" font-weight="normal" fill="#000" stroke="#000" stroke-width="0.3" >2</text>
<text transform="translate(659.5,251.2) scale(0.89,1)" font-size="17.3" text-anchor="middle" font-weight="normal" fill="#000" stroke="#000" stroke-width="0.3" >3</text>
<line x1="527.5" y1="30.7" x2="527.5" y2="231.5" stroke="#6e6e6e" stroke-width="1.0" />
<line x1="524.3" y1="231.5" x2="527.5" y2="231.5" stroke="#6e6e6e" stroke-width="1.0" />
<line x1="524.3" y1="169.58" x2="527.5" y2="169.58" stroke="#6e6e6e" stroke-width="1.0" />
<line x1="524.3" y1="107.66" x2="527.5" y2="107.66" stroke="#6e6e6e" stroke-width="1.0" />
<line x1="524.3" y1="45.74" x2="527.5" y2="45.74" stroke="#6e6e6e" stroke-width="1.0" />
<line x1="525.8" y1="200.54" x2="527.5" y2="200.54" stroke="#6e6e6e" stroke-width="1.0" />
<line x1="525.8" y1="138.62" x2="527.5" y2="138.62" stroke="#6e6e6e" stroke-width="1.0" />
<line x1="525.8" y1="76.7" x2="527.5" y2="76.7" stroke="#6e6e6e" stroke-width="1.0" />
<text transform="translate(521,237.1) scale(0.89,1)" font-size="17.3" text-anchor="end" font-weight="normal" fill="#000" stroke="#000" stroke-width="0.3" >0</text>
<text transform="translate(521,175.18) scale(0.89,1)" font-size="17.3" text-anchor="end" font-weight="normal" fill="#000" stroke="#000" stroke-width="0.3" >40</text>
<text transform="translate(521,113.26) scale(0.89,1)" font-size="17.3" text-anchor="end" font-weight="normal" fill="#000" stroke="#000" stroke-width="0.3" >80</text>
<text transform="translate(521,51.34) scale(0.89,1)" font-size="17.3" text-anchor="end" font-weight="normal" fill="#000" stroke="#000" stroke-width="0.3" >120</text>
<text transform="translate(534.7,48.7) scale(0.89,1)" font-size="17.3" text-anchor="start" font-weight="normal" fill="#000" stroke="#000" stroke-width="0.3" ><tspan font-style="italic">h</tspan> ~ 1×<tspan dx="1.2"> 10</tspan><tspan dy="-6.4" font-size="11.5">13</tspan><tspan dx="0.3" dy="6.4"> cm</tspan><tspan dx="0.4" dy="-6.4" font-size="11.5">-2</tspan></text>
<text transform="translate(564,225.4) scale(0.89,1)" font-size="17.3" text-anchor="start" font-weight="normal" fill="#000" stroke="#000" stroke-width="0.3" ><tspan font-style="italic">R</tspan><tspan dx="0" dy="4.2" font-size="12.5">C</tspan><tspan dy="-4.2"> = 1.6 kΩ µm</tspan></text>
<text transform="translate(533,277.1) scale(0.99,1)" font-size="16" text-anchor="start" font-weight="normal" fill="#000" stroke="#000" stroke-width="0.3" >Channel length (µm)</text>
<text transform="translate(490.5,130) rotate(-90) scale(0.99,1)" x="0" y="0" font-size="16" text-anchor="middle" fill="#000" stroke="#000" stroke-width="0.3">Total resistance (kΩ µm)</text>
<defs><clipPath id="insclip"><rect x="608.2" y="144.5" width="64.2" height="65.5"/></clipPath></defs>
<g clip-path="url(#insclip)">
<rect x="608.2" y="144.5" width="64.2" height="65.5" fill="#58503a"/>
<polygon points="622.68,202.77 627.05,209.73 641.95,187.88 663.4,150.74 658.83,151.14 636.29,179.24" fill="#41382a"/>
<polyline points="632.02,142 634,151.73 656.15,165.63" fill="none" stroke="#f8d06a" stroke-width="3.2" stroke-linecap="round" stroke-linejoin="round"/>
<polyline points="647.21,153.72 660.12,161.36 675.51,156.9" fill="none" stroke="#f8d06a" stroke-width="3.2" stroke-linecap="round" stroke-linejoin="round"/>
<polyline points="606,159.68 617.92,162.85 646.52,181.72" fill="none" stroke="#f8d06a" stroke-width="3.2" stroke-linecap="round" stroke-linejoin="round"/>
<polyline points="637.58,168.81 652.67,177.55 675.51,188.47" fill="none" stroke="#f8d06a" stroke-width="3.2" stroke-linecap="round" stroke-linejoin="round"/>
<polyline points="606,188.47 619.9,187.18 634.8,196.82" fill="none" stroke="#f8d06a" stroke-width="3.2" stroke-linecap="round" stroke-linejoin="round"/>
<polyline points="627.35,183.71 641.25,190.66 659.62,211.51" fill="none" stroke="#f8d06a" stroke-width="3.2" stroke-linecap="round" stroke-linejoin="round"/>
<rect x="656.8" y="203.1" width="10" height="1.7" fill="#fff"/>
<text x="650.6" y="198.9" font-size="9.2" text-anchor="start" font-weight="normal" fill="#fff" stroke="#fff" stroke-width="0" >2 µm</text>
</g>
<text x="12.5" y="301.4" font-size="17" text-anchor="start" font-weight="bold" fill="#000" stroke="#000" stroke-width="0.3" >d</text>
<polyline points="74.2,434 76.9,428 80.5,418.7 84.8,409.5 90,401.1 95.6,393.3 102.6,384.5 112.2,378 124,371 139,363 160.3,351.5 191.8,336.3" fill="none" stroke="#08306b" stroke-width="1.9"/>
<polygon points="74.2,429.9 78.3,434 74.2,438.1 70.1,434" fill="#08306b" stroke="none" stroke-width="0"/>
<polygon points="76.9,423.9 81,428 76.9,432.1 72.8,428" fill="#08306b" stroke="none" stroke-width="0"/>
<polygon points="80.5,414.6 84.6,418.7 80.5,422.8 76.4,418.7" fill="#08306b" stroke="none" stroke-width="0"/>
<polygon points="84.8,405.4 88.9,409.5 84.8,413.6 80.7,409.5" fill="#08306b" stroke="none" stroke-width="0"/>
<polygon points="90,397 94.1,401.1 90,405.2 85.9,401.1" fill="#08306b" stroke="none" stroke-width="0"/>
<polygon points="95.6,389.2 99.7,393.3 95.6,397.4 91.5,393.3" fill="#08306b" stroke="none" stroke-width="0"/>
<polygon points="102.6,380.4 106.7,384.5 102.6,388.6 98.5,384.5" fill="#08306b" stroke="none" stroke-width="0"/>
<polygon points="112.2,373.9 116.3,378 112.2,382.1 108.1,378" fill="#08306b" stroke="none" stroke-width="0"/>
<polygon points="124,366.9 128.1,371 124,375.1 119.9,371" fill="#08306b" stroke="none" stroke-width="0"/>
<polygon points="139,358.9 143.1,363 139,367.1 134.9,363" fill="#08306b" stroke="none" stroke-width="0"/>
<polygon points="160.3,347.4 164.4,351.5 160.3,355.6 156.2,351.5" fill="#08306b" stroke="none" stroke-width="0"/>
<polygon points="191.8,332.2 195.9,336.3 191.8,340.4 187.7,336.3" fill="#08306b" stroke="none" stroke-width="0"/>
<polyline points="74.2,438.57 76.9,432.29 80.5,422.58 84.8,412.73 90,403.63 95.6,395.61 102.6,386.88 112.2,380.67 124,373.84 139,366.3 160.3,355.54 191.8,340.9" fill="none" stroke="#0f4d92" stroke-width="1.9"/>
<polygon points="74.2,434.47 78.3,438.57 74.2,442.67 70.1,438.57" fill="#0f4d92" stroke="none" stroke-width="0"/>
<polygon points="76.9,428.19 81,432.29 76.9,436.39 72.8,432.29" fill="#0f4d92" stroke="none" stroke-width="0"/>
<polygon points="80.5,418.48 84.6,422.58 80.5,426.68 76.4,422.58" fill="#0f4d92" stroke="none" stroke-width="0"/>
<polygon points="84.8,408.63 88.9,412.73 84.8,416.83 80.7,412.73" fill="#0f4d92" stroke="none" stroke-width="0"/>
<polygon points="90,399.53 94.1,403.63 90,407.73 85.9,403.63" fill="#0f4d92" stroke="none" stroke-width="0"/>
<polygon points="95.6,391.51 99.7,395.61 95.6,399.71 91.5,395.61" fill="#0f4d92" stroke="none" stroke-width="0"/>
<polygon points="102.6,382.78 106.7,386.88 102.6,390.98 98.5,386.88" fill="#0f4d92" stroke="none" stroke-width="0"/>
<polygon points="112.2,376.57 116.3,380.67 112.2,384.77 108.1,380.67" fill="#0f4d92" stroke="none" stroke-width="0"/>
<polygon points="124,369.74 128.1,373.84 124,377.94 119.9,373.84" fill="#0f4d92" stroke="none" stroke-width="0"/>
<polygon points="139,362.2 143.1,366.3 139,370.4 134.9,366.3" fill="#0f4d92" stroke="none" stroke-width="0"/>
<polygon points="160.3,351.44 164.4,355.54 160.3,359.64 156.2,355.54" fill="#0f4d92" stroke="none" stroke-width="0"/>
<polygon points="191.8,336.8 195.9,340.9 191.8,345 187.7,340.9" fill="#0f4d92" stroke="none" stroke-width="0"/>
<polyline points="74.2,443.15 76.9,436.59 80.5,426.47 84.8,415.99 90,406.2 95.6,397.97 102.6,389.32 112.2,383.4 124,376.75 139,369.68 160.3,359.67 191.8,345.6" fill="none" stroke="#2368ad" stroke-width="1.9"/>
<polygon points="74.2,439.05 78.3,443.15 74.2,447.25 70.1,443.15" fill="#2368ad" stroke="none" stroke-width="0"/>
<polygon points="76.9,432.49 81,436.59 76.9,440.69 72.8,436.59" fill="#2368ad" stroke="none" stroke-width="0"/>
<polygon points="80.5,422.37 84.6,426.47 80.5,430.57 76.4,426.47" fill="#2368ad" stroke="none" stroke-width="0"/>
<polygon points="84.8,411.89 88.9,415.99 84.8,420.09 80.7,415.99" fill="#2368ad" stroke="none" stroke-width="0"/>
<polygon points="90,402.1 94.1,406.2 90,410.3 85.9,406.2" fill="#2368ad" stroke="none" stroke-width="0"/>
<polygon points="95.6,393.87 99.7,397.97 95.6,402.07 91.5,397.97" fill="#2368ad" stroke="none" stroke-width="0"/>
<polygon points="102.6,385.22 106.7,389.32 102.6,393.42 98.5,389.32" fill="#2368ad" stroke="none" stroke-width="0"/>
<polygon points="112.2,379.3 116.3,383.4 112.2,387.5 108.1,383.4" fill="#2368ad" stroke="none" stroke-width="0"/>
<polygon points="124,372.65 128.1,376.75 124,380.85 119.9,376.75" fill="#2368ad" stroke="none" stroke-width="0"/>
<polygon points="139,365.58 143.1,369.68 139,373.78 134.9,369.68" fill="#2368ad" stroke="none" stroke-width="0"/>
<polygon points="160.3,355.57 164.4,359.67 160.3,363.77 156.2,359.67" fill="#2368ad" stroke="none" stroke-width="0"/>
<polygon points="191.8,341.5 195.9,345.6 191.8,349.7 187.7,345.6" fill="#2368ad" stroke="none" stroke-width="0"/>
<polyline points="74.2,447.72 76.9,440.89 80.5,430.37 84.8,419.26 90,408.78 95.6,400.34 102.6,391.77 112.2,386.14 124,379.67 139,373.06 160.3,363.8 191.8,350.3" fill="none" stroke="#3b82bf" stroke-width="1.9"/>
<polygon points="74.2,443.62 78.3,447.72 74.2,451.82 70.1,447.72" fill="#3b82bf" stroke="none" stroke-width="0"/>
<polygon points="76.9,436.79 81,440.89 76.9,444.99 72.8,440.89" fill="#3b82bf" stroke="none" stroke-width="0"/>
<polygon points="80.5,426.27 84.6,430.37 80.5,434.47 76.4,430.37" fill="#3b82bf" stroke="none" stroke-width="0"/>
<polygon points="84.8,415.16 88.9,419.26 84.8,423.36 80.7,419.26" fill="#3b82bf" stroke="none" stroke-width="0"/>
<polygon points="90,404.68 94.1,408.78 90,412.88 85.9,408.78" fill="#3b82bf" stroke="none" stroke-width="0"/>
<polygon points="95.6,396.24 99.7,400.34 95.6,404.44 91.5,400.34" fill="#3b82bf" stroke="none" stroke-width="0"/>
<polygon points="102.6,387.67 106.7,391.77 102.6,395.87 98.5,391.77" fill="#3b82bf" stroke="none" stroke-width="0"/>
<polygon points="112.2,382.04 116.3,386.14 112.2,390.24 108.1,386.14" fill="#3b82bf" stroke="none" stroke-width="0"/>
<polygon points="124,375.57 128.1,379.67 124,383.77 119.9,379.67" fill="#3b82bf" stroke="none" stroke-width="0"/>
<polygon points="139,368.96 143.1,373.06 139,377.16 134.9,373.06" fill="#3b82bf" stroke="none" stroke-width="0"/>
<polygon points="160.3,359.7 164.4,363.8 160.3,367.9 156.2,363.8" fill="#3b82bf" stroke="none" stroke-width="0"/>
<polygon points="191.8,346.2 195.9,350.3 191.8,354.4 187.7,350.3" fill="#3b82bf" stroke="none" stroke-width="0"/>
<polyline points="74.2,452.29 76.9,445.29 80.5,434.51 84.8,422.92 90,411.91 95.6,403.38 102.6,394.99 112.2,389.73 124,383.52 139,377.46 160.3,369.06 191.8,356.3" fill="none" stroke="#5a9bcd" stroke-width="1.9"/>
<polygon points="74.2,448.19 78.3,452.29 74.2,456.39 70.1,452.29" fill="#5a9bcd" stroke="none" stroke-width="0"/>
<polygon points="76.9,441.19 81,445.29 76.9,449.39 72.8,445.29" fill="#5a9bcd" stroke="none" stroke-width="0"/>
<polygon points="80.5,430.41 84.6,434.51 80.5,438.61 76.4,434.51" fill="#5a9bcd" stroke="none" stroke-width="0"/>
<polygon points="84.8,418.82 88.9,422.92 84.8,427.02 80.7,422.92" fill="#5a9bcd" stroke="none" stroke-width="0"/>
<polygon points="90,407.81 94.1,411.91 90,416.01 85.9,411.91" fill="#5a9bcd" stroke="none" stroke-width="0"/>
<polygon points="95.6,399.28 99.7,403.38 95.6,407.48 91.5,403.38" fill="#5a9bcd" stroke="none" stroke-width="0"/>
<polygon points="102.6,390.89 106.7,394.99 102.6,399.09 98.5,394.99" fill="#5a9bcd" stroke="none" stroke-width="0"/>
<polygon points="112.2,385.63 116.3,389.73 112.2,393.83 108.1,389.73" fill="#5a9bcd" stroke="none" stroke-width="0"/>
<polygon points="124,379.42 128.1,383.52 124,387.62 119.9,383.52" fill="#5a9bcd" stroke="none" stroke-width="0"/>
<polygon points="139,373.36 143.1,377.46 139,381.56 134.9,377.46" fill="#5a9bcd" stroke="none" stroke-width="0"/>
<polygon points="160.3,364.96 164.4,369.06 160.3,373.16 156.2,369.06" fill="#5a9bcd" stroke="none" stroke-width="0"/>
<polygon points="191.8,352.2 195.9,356.3 191.8,360.4 187.7,356.3" fill="#5a9bcd" stroke="none" stroke-width="0"/>
<polyline points="74.2,456.87 76.9,449.66 80.5,438.59 84.8,426.5 90,414.92 95.6,406.26 102.6,398.04 112.2,393.1 124,387.13 139,381.58 160.3,373.99 191.8,361.9" fill="none" stroke="#8dbde0" stroke-width="1.9"/>
<polygon points="74.2,452.77 78.3,456.87 74.2,460.97 70.1,456.87" fill="#8dbde0" stroke="none" stroke-width="0"/>
<polygon points="76.9,445.56 81,449.66 76.9,453.76 72.8,449.66" fill="#8dbde0" stroke="none" stroke-width="0"/>
<polygon points="80.5,434.49 84.6,438.59 80.5,442.69 76.4,438.59" fill="#8dbde0" stroke="none" stroke-width="0"/>
<polygon points="84.8,422.4 88.9,426.5 84.8,430.6 80.7,426.5" fill="#8dbde0" stroke="none" stroke-width="0"/>
<polygon points="90,410.82 94.1,414.92 90,419.02 85.9,414.92" fill="#8dbde0" stroke="none" stroke-width="0"/>
<polygon points="95.6,402.16 99.7,406.26 95.6,410.36 91.5,406.26" fill="#8dbde0" stroke="none" stroke-width="0"/>
<polygon points="102.6,393.94 106.7,398.04 102.6,402.14 98.5,398.04" fill="#8dbde0" stroke="none" stroke-width="0"/>
<polygon points="112.2,389 116.3,393.1 112.2,397.2 108.1,393.1" fill="#8dbde0" stroke="none" stroke-width="0"/>
<polygon points="124,383.03 128.1,387.13 124,391.23 119.9,387.13" fill="#8dbde0" stroke="none" stroke-width="0"/>
<polygon points="139,377.48 143.1,381.58 139,385.68 134.9,381.58" fill="#8dbde0" stroke="none" stroke-width="0"/>
<polygon points="160.3,369.89 164.4,373.99 160.3,378.09 156.2,373.99" fill="#8dbde0" stroke="none" stroke-width="0"/>
<polygon points="191.8,357.8 195.9,361.9 191.8,366 187.7,361.9" fill="#8dbde0" stroke="none" stroke-width="0"/>
<polyline points="74.2,461.44 76.9,454.17 80.5,443 84.8,430.63 90,418.72 95.6,410.09 102.6,402.15 112.2,397.63 124,391.97 139,387.02 160.3,380.33 191.8,369.1" fill="none" stroke="#bcd7ec" stroke-width="1.9"/>
<polygon points="74.2,457.34 78.3,461.44 74.2,465.54 70.1,461.44" fill="#bcd7ec" stroke="none" stroke-width="0"/>
<polygon points="76.9,450.07 81,454.17 76.9,458.27 72.8,454.17" fill="#bcd7ec" stroke="none" stroke-width="0"/>
<polygon points="80.5,438.9 84.6,443 80.5,447.1 76.4,443" fill="#bcd7ec" stroke="none" stroke-width="0"/>
<polygon points="84.8,426.53 88.9,430.63 84.8,434.73 80.7,430.63" fill="#bcd7ec" stroke="none" stroke-width="0"/>
<polygon points="90,414.62 94.1,418.72 90,422.82 85.9,418.72" fill="#bcd7ec" stroke="none" stroke-width="0"/>
<polygon points="95.6,405.99 99.7,410.09 95.6,414.19 91.5,410.09" fill="#bcd7ec" stroke="none" stroke-width="0"/>
<polygon points="102.6,398.05 106.7,402.15 102.6,406.25 98.5,402.15" fill="#bcd7ec" stroke="none" stroke-width="0"/>
<polygon points="112.2,393.53 116.3,397.63 112.2,401.73 108.1,397.63" fill="#bcd7ec" stroke="none" stroke-width="0"/>
<polygon points="124,387.87 128.1,391.97 124,396.07 119.9,391.97" fill="#bcd7ec" stroke="none" stroke-width="0"/>
<polygon points="139,382.92 143.1,387.02 139,391.12 134.9,387.02" fill="#bcd7ec" stroke="none" stroke-width="0"/>
<polygon points="160.3,376.23 164.4,380.33 160.3,384.43 156.2,380.33" fill="#bcd7ec" stroke="none" stroke-width="0"/>
<polygon points="191.8,365 195.9,369.1 191.8,373.2 187.7,369.1" fill="#bcd7ec" stroke="none" stroke-width="0"/>
<polyline points="74.2,466.01 76.9,458.66 80.5,447.4 84.8,434.74 90,422.48 95.6,413.86 102.6,406.19 112.2,402.04 124,396.69 139,392.28 160.3,386.44 191.8,376" fill="none" stroke="#dde9f5" stroke-width="1.9"/>
<polygon points="74.2,461.91 78.3,466.01 74.2,470.11 70.1,466.01" fill="#dde9f5" stroke="none" stroke-width="0"/>
<polygon points="76.9,454.56 81,458.66 76.9,462.76 72.8,458.66" fill="#dde9f5" stroke="none" stroke-width="0"/>
<polygon points="80.5,443.3 84.6,447.4 80.5,451.5 76.4,447.4" fill="#dde9f5" stroke="none" stroke-width="0"/>
<polygon points="84.8,430.64 88.9,434.74 84.8,438.84 80.7,434.74" fill="#dde9f5" stroke="none" stroke-width="0"/>
<polygon points="90,418.38 94.1,422.48 90,426.58 85.9,422.48" fill="#dde9f5" stroke="none" stroke-width="0"/>
<polygon points="95.6,409.76 99.7,413.86 95.6,417.96 91.5,413.86" fill="#dde9f5" stroke="none" stroke-width="0"/>
<polygon points="102.6,402.09 106.7,406.19 102.6,410.29 98.5,406.19" fill="#dde9f5" stroke="none" stroke-width="0"/>
<polygon points="112.2,397.94 116.3,402.04 112.2,406.14 108.1,402.04" fill="#dde9f5" stroke="none" stroke-width="0"/>
<polygon points="124,392.59 128.1,396.69 124,400.79 119.9,396.69" fill="#dde9f5" stroke="none" stroke-width="0"/>
<polygon points="139,388.18 143.1,392.28 139,396.38 134.9,392.28" fill="#dde9f5" stroke="none" stroke-width="0"/>
<polygon points="160.3,382.34 164.4,386.44 160.3,390.54 156.2,386.44" fill="#dde9f5" stroke="none" stroke-width="0"/>
<polygon points="191.8,371.9 195.9,376 191.8,380.1 187.7,376" fill="#dde9f5" stroke="none" stroke-width="0"/>
<polyline points="74.2,470.59 76.9,463.24 80.5,451.99 84.8,439.2 90,426.74 95.6,418.23 102.6,410.88 112.2,407.13 124,402.11 139,398.26 160.3,393.28 191.8,383.7" fill="none" stroke="#fde1d4" stroke-width="1.9"/>
<polygon points="74.2,466.49 78.3,470.59 74.2,474.69 70.1,470.59" fill="#fde1d4" stroke="none" stroke-width="0"/>
<polygon points="76.9,459.14 81,463.24 76.9,467.34 72.8,463.24" fill="#fde1d4" stroke="none" stroke-width="0"/>
<polygon points="80.5,447.89 84.6,451.99 80.5,456.09 76.4,451.99" fill="#fde1d4" stroke="none" stroke-width="0"/>
<polygon points="84.8,435.1 88.9,439.2 84.8,443.3 80.7,439.2" fill="#fde1d4" stroke="none" stroke-width="0"/>
<polygon points="90,422.64 94.1,426.74 90,430.84 85.9,426.74" fill="#fde1d4" stroke="none" stroke-width="0"/>
<polygon points="95.6,414.13 99.7,418.23 95.6,422.33 91.5,418.23" fill="#fde1d4" stroke="none" stroke-width="0"/>
<polygon points="102.6,406.78 106.7,410.88 102.6,414.98 98.5,410.88" fill="#fde1d4" stroke="none" stroke-width="0"/>
<polygon points="112.2,403.03 116.3,407.13 112.2,411.23 108.1,407.13" fill="#fde1d4" stroke="none" stroke-width="0"/>
<polygon points="124,398.01 128.1,402.11 124,406.21 119.9,402.11" fill="#fde1d4" stroke="none" stroke-width="0"/>
<polygon points="139,394.16 143.1,398.26 139,402.36 134.9,398.26" fill="#fde1d4" stroke="none" stroke-width="0"/>
<polygon points="160.3,389.18 164.4,393.28 160.3,397.38 156.2,393.28" fill="#fde1d4" stroke="none" stroke-width="0"/>
<polygon points="191.8,379.6 195.9,383.7 191.8,387.8 187.7,383.7" fill="#fde1d4" stroke="none" stroke-width="0"/>
<polyline points="74.2,475.16 76.9,467.92 80.5,456.83 84.8,444.09 90,431.61 95.6,423.3 102.6,416.35 112.2,413.01 124,408.38 139,405.09 160.3,400.97 191.8,392.3" fill="none" stroke="#fcc2aa" stroke-width="1.9"/>
<polygon points="74.2,471.06 78.3,475.16 74.2,479.26 70.1,475.16" fill="#fcc2aa" stroke="none" stroke-width="0"/>
<polygon points="76.9,463.82 81,467.92 76.9,472.02 72.8,467.92" fill="#fcc2aa" stroke="none" stroke-width="0"/>
<polygon points="80.5,452.73 84.6,456.83 80.5,460.93 76.4,456.83" fill="#fcc2aa" stroke="none" stroke-width="0"/>
<polygon points="84.8,439.99 88.9,444.09 84.8,448.19 80.7,444.09" fill="#fcc2aa" stroke="none" stroke-width="0"/>
<polygon points="90,427.51 94.1,431.61 90,435.71 85.9,431.61" fill="#fcc2aa" stroke="none" stroke-width="0"/>
<polygon points="95.6,419.2 99.7,423.3 95.6,427.4 91.5,423.3" fill="#fcc2aa" stroke="none" stroke-width="0"/>
<polygon points="102.6,412.25 106.7,416.35 102.6,420.45 98.5,416.35" fill="#fcc2aa" stroke="none" stroke-width="0"/>
<polygon points="112.2,408.91 116.3,413.01 112.2,417.11 108.1,413.01" fill="#fcc2aa" stroke="none" stroke-width="0"/>
<polygon points="124,404.28 128.1,408.38 124,412.48 119.9,408.38" fill="#fcc2aa" stroke="none" stroke-width="0"/>
<polygon points="139,400.99 143.1,405.09 139,409.19 134.9,405.09" fill="#fcc2aa" stroke="none" stroke-width="0"/>
<polygon points="160.3,396.87 164.4,400.97 160.3,405.07 156.2,400.97" fill="#fcc2aa" stroke="none" stroke-width="0"/>
<polygon points="191.8,388.2 195.9,392.3 191.8,396.4 187.7,392.3" fill="#fcc2aa" stroke="none" stroke-width="0"/>
<polyline points="74.2,479.73 76.9,472.64 80.5,461.8 84.8,449.2 90,436.81 95.6,428.76 102.6,422.22 112.2,419.29 124,415.03 139,412.29 160.3,408.97 191.8,401.2" fill="none" stroke="#fa9e81" stroke-width="1.9"/>
<polygon points="74.2,475.63 78.3,479.73 74.2,483.83 70.1,479.73" fill="#fa9e81" stroke="none" stroke-width="0"/>
<polygon points="76.9,468.54 81,472.64 76.9,476.74 72.8,472.64" fill="#fa9e81" stroke="none" stroke-width="0"/>
<polygon points="80.5,457.7 84.6,461.8 80.5,465.9 76.4,461.8" fill="#fa9e81" stroke="none" stroke-width="0"/>
<polygon points="84.8,445.1 88.9,449.2 84.8,453.3 80.7,449.2" fill="#fa9e81" stroke="none" stroke-width="0"/>
<polygon points="90,432.71 94.1,436.81 90,440.91 85.9,436.81" fill="#fa9e81" stroke="none" stroke-width="0"/>
<polygon points="95.6,424.66 99.7,428.76 95.6,432.86 91.5,428.76" fill="#fa9e81" stroke="none" stroke-width="0"/>
<polygon points="102.6,418.12 106.7,422.22 102.6,426.32 98.5,422.22" fill="#fa9e81" stroke="none" stroke-width="0"/>
<polygon points="112.2,415.19 116.3,419.29 112.2,423.39 108.1,419.29" fill="#fa9e81" stroke="none" stroke-width="0"/>
<polygon points="124,410.93 128.1,415.03 124,419.13 119.9,415.03" fill="#fa9e81" stroke="none" stroke-width="0"/>
<polygon points="139,408.19 143.1,412.29 139,416.39 134.9,412.29" fill="#fa9e81" stroke="none" stroke-width="0"/>
<polygon points="160.3,404.87 164.4,408.97 160.3,413.07 156.2,408.97" fill="#fa9e81" stroke="none" stroke-width="0"/>
<polygon points="191.8,397.1 195.9,401.2 191.8,405.3 187.7,401.2" fill="#fa9e81" stroke="none" stroke-width="0"/>
<polyline points="74.2,484.31 76.9,477.42 80.5,466.9 84.8,454.55 90,442.36 95.6,434.61 102.6,428.52 112.2,425.97 124,422.09 139,419.86 160.3,417.29 191.8,410.4" fill="none" stroke="#f57b5a" stroke-width="1.9"/>
<polygon points="74.2,480.21 78.3,484.31 74.2,488.41 70.1,484.31" fill="#f57b5a" stroke="none" stroke-width="0"/>
<polygon points="76.9,473.32 81,477.42 76.9,481.52 72.8,477.42" fill="#f57b5a" stroke="none" stroke-width="0"/>
<polygon points="80.5,462.8 84.6,466.9 80.5,471 76.4,466.9" fill="#f57b5a" stroke="none" stroke-width="0"/>
<polygon points="84.8,450.45 88.9,454.55 84.8,458.65 80.7,454.55" fill="#f57b5a" stroke="none" stroke-width="0"/>
<polygon points="90,438.26 94.1,442.36 90,446.46 85.9,442.36" fill="#f57b5a" stroke="none" stroke-width="0"/>
<polygon points="95.6,430.51 99.7,434.61 95.6,438.71 91.5,434.61" fill="#f57b5a" stroke="none" stroke-width="0"/>
<polygon points="102.6,424.42 106.7,428.52 102.6,432.62 98.5,428.52" fill="#f57b5a" stroke="none" stroke-width="0"/>
<polygon points="112.2,421.87 116.3,425.97 112.2,430.07 108.1,425.97" fill="#f57b5a" stroke="none" stroke-width="0"/>
<polygon points="124,417.99 128.1,422.09 124,426.19 119.9,422.09" fill="#f57b5a" stroke="none" stroke-width="0"/>
<polygon points="139,415.76 143.1,419.86 139,423.96 134.9,419.86" fill="#f57b5a" stroke="none" stroke-width="0"/>
<polygon points="160.3,413.19 164.4,417.29 160.3,421.39 156.2,417.29" fill="#f57b5a" stroke="none" stroke-width="0"/>
<polygon points="191.8,406.3 195.9,410.4 191.8,414.5 187.7,410.4" fill="#f57b5a" stroke="none" stroke-width="0"/>
<polyline points="74.2,488.88 76.9,482.38 80.5,472.48 84.8,460.74 90,449.11 95.6,441.87 102.6,436.34 112.2,434.21 124,430.78 139,429.06 160.3,427.22 191.8,421.3" fill="none" stroke="#eb553d" stroke-width="1.9"/>
<polygon points="74.2,484.78 78.3,488.88 74.2,492.98 70.1,488.88" fill="#eb553d" stroke="none" stroke-width="0"/>
<polygon points="76.9,478.28 81,482.38 76.9,486.48 72.8,482.38" fill="#eb553d" stroke="none" stroke-width="0"/>
<polygon points="80.5,468.38 84.6,472.48 80.5,476.58 76.4,472.48" fill="#eb553d" stroke="none" stroke-width="0"/>
<polygon points="84.8,456.64 88.9,460.74 84.8,464.84 80.7,460.74" fill="#eb553d" stroke="none" stroke-width="0"/>
<polygon points="90,445.01 94.1,449.11 90,453.21 85.9,449.11" fill="#eb553d" stroke="none" stroke-width="0"/>
<polygon points="95.6,437.77 99.7,441.87 95.6,445.97 91.5,441.87" fill="#eb553d" stroke="none" stroke-width="0"/>
<polygon points="102.6,432.24 106.7,436.34 102.6,440.44 98.5,436.34" fill="#eb553d" stroke="none" stroke-width="0"/>
<polygon points="112.2,430.11 116.3,434.21 112.2,438.31 108.1,434.21" fill="#eb553d" stroke="none" stroke-width="0"/>
<polygon points="124,426.68 128.1,430.78 124,434.88 119.9,430.78" fill="#eb553d" stroke="none" stroke-width="0"/>
<polygon points="139,424.96 143.1,429.06 139,433.16 134.9,429.06" fill="#eb553d" stroke="none" stroke-width="0"/>
<polygon points="160.3,423.12 164.4,427.22 160.3,431.32 156.2,427.22" fill="#eb553d" stroke="none" stroke-width="0"/>
<polygon points="191.8,417.2 195.9,421.3 191.8,425.4 187.7,421.3" fill="#eb553d" stroke="none" stroke-width="0"/>
<polyline points="74.2,493.45 76.9,487.47 80.5,478.35 84.8,467.44 90,456.61 95.6,450 102.6,445.09 112.2,443.36 124,440.4 139,439.14 160.3,437.95 191.8,433" fill="none" stroke="#d6302a" stroke-width="1.9"/>
<polygon points="74.2,489.35 78.3,493.45 74.2,497.55 70.1,493.45" fill="#d6302a" stroke="none" stroke-width="0"/>
<polygon points="76.9,483.37 81,487.47 76.9,491.57 72.8,487.47" fill="#d6302a" stroke="none" stroke-width="0"/>
<polygon points="80.5,474.25 84.6,478.35 80.5,482.45 76.4,478.35" fill="#d6302a" stroke="none" stroke-width="0"/>
<polygon points="84.8,463.34 88.9,467.44 84.8,471.54 80.7,467.44" fill="#d6302a" stroke="none" stroke-width="0"/>
<polygon points="90,452.51 94.1,456.61 90,460.71 85.9,456.61" fill="#d6302a" stroke="none" stroke-width="0"/>
<polygon points="95.6,445.9 99.7,450 95.6,454.1 91.5,450" fill="#d6302a" stroke="none" stroke-width="0"/>
<polygon points="102.6,440.99 106.7,445.09 102.6,449.19 98.5,445.09" fill="#d6302a" stroke="none" stroke-width="0"/>
<polygon points="112.2,439.26 116.3,443.36 112.2,447.46 108.1,443.36" fill="#d6302a" stroke="none" stroke-width="0"/>
<polygon points="124,436.3 128.1,440.4 124,444.5 119.9,440.4" fill="#d6302a" stroke="none" stroke-width="0"/>
<polygon points="139,435.04 143.1,439.14 139,443.24 134.9,439.14" fill="#d6302a" stroke="none" stroke-width="0"/>
<polygon points="160.3,433.85 164.4,437.95 160.3,442.05 156.2,437.95" fill="#d6302a" stroke="none" stroke-width="0"/>
<polygon points="191.8,428.9 195.9,433 191.8,437.1 187.7,433" fill="#d6302a" stroke="none" stroke-width="0"/>
<polyline points="74.2,498.03 76.9,492.65 80.5,484.47 84.8,474.61 90,464.78 95.6,458.9 102.6,454.66 112.2,453.3 124,450.81 139,449.96 160.3,449.32 191.8,445.3" fill="none" stroke="#ae1420" stroke-width="1.9"/>
<polygon points="74.2,493.93 78.3,498.03 74.2,502.13 70.1,498.03" fill="#ae1420" stroke="none" stroke-width="0"/>
<polygon points="76.9,488.55 81,492.65 76.9,496.75 72.8,492.65" fill="#ae1420" stroke="none" stroke-width="0"/>
<polygon points="80.5,480.37 84.6,484.47 80.5,488.57 76.4,484.47" fill="#ae1420" stroke="none" stroke-width="0"/>
<polygon points="84.8,470.51 88.9,474.61 84.8,478.71 80.7,474.61" fill="#ae1420" stroke="none" stroke-width="0"/>
<polygon points="90,460.68 94.1,464.78 90,468.88 85.9,464.78" fill="#ae1420" stroke="none" stroke-width="0"/>
<polygon points="95.6,454.8 99.7,458.9 95.6,463 91.5,458.9" fill="#ae1420" stroke="none" stroke-width="0"/>
<polygon points="102.6,450.56 106.7,454.66 102.6,458.76 98.5,454.66" fill="#ae1420" stroke="none" stroke-width="0"/>
<polygon points="112.2,449.2 116.3,453.3 112.2,457.4 108.1,453.3" fill="#ae1420" stroke="none" stroke-width="0"/>
<polygon points="124,446.71 128.1,450.81 124,454.91 119.9,450.81" fill="#ae1420" stroke="none" stroke-width="0"/>
<polygon points="139,445.86 143.1,449.96 139,454.06 134.9,449.96" fill="#ae1420" stroke="none" stroke-width="0"/>
<polygon points="160.3,445.22 164.4,449.32 160.3,453.42 156.2,449.32" fill="#ae1420" stroke="none" stroke-width="0"/>
<polygon points="191.8,441.2 195.9,445.3 191.8,449.4 187.7,445.3" fill="#ae1420" stroke="none" stroke-width="0"/>
<polyline points="74.2,502.6 76.9,498 80.5,491 84.8,482.5 90,474 95.6,469 102.6,465.5 112.2,464.5 124,462.5 139,462 160.3,461.8 191.8,458.7" fill="none" stroke="#6d0516" stroke-width="1.9"/>
<polygon points="74.2,498.5 78.3,502.6 74.2,506.7 70.1,502.6" fill="#6d0516" stroke="none" stroke-width="0"/>
<polygon points="76.9,493.9 81,498 76.9,502.1 72.8,498" fill="#6d0516" stroke="none" stroke-width="0"/>
<polygon points="80.5,486.9 84.6,491 80.5,495.1 76.4,491" fill="#6d0516" stroke="none" stroke-width="0"/>
<polygon points="84.8,478.4 88.9,482.5 84.8,486.6 80.7,482.5" fill="#6d0516" stroke="none" stroke-width="0"/>
<polygon points="90,469.9 94.1,474 90,478.1 85.9,474" fill="#6d0516" stroke="none" stroke-width="0"/>
<polygon points="95.6,464.9 99.7,469 95.6,473.1 91.5,469" fill="#6d0516" stroke="none" stroke-width="0"/>
<polygon points="102.6,461.4 106.7,465.5 102.6,469.6 98.5,465.5" fill="#6d0516" stroke="none" stroke-width="0"/>
<polygon points="112.2,460.4 116.3,464.5 112.2,468.6 108.1,464.5" fill="#6d0516" stroke="none" stroke-width="0"/>
<polygon points="124,458.4 128.1,462.5 124,466.6 119.9,462.5" fill="#6d0516" stroke="none" stroke-width="0"/>
<polygon points="139,457.9 143.1,462 139,466.1 134.9,462" fill="#6d0516" stroke="none" stroke-width="0"/>
<polygon points="160.3,457.7 164.4,461.8 160.3,465.9 156.2,461.8" fill="#6d0516" stroke="none" stroke-width="0"/>
<polygon points="191.8,454.6 195.9,458.7 191.8,462.8 187.7,458.7" fill="#6d0516" stroke="none" stroke-width="0"/>
<path d="M141.7,476.3 C131.5,446 127.2,415 127.2,358.5" fill="none" stroke="#111" stroke-width="1.15"/>
<polygon points="127.1,352.3 129.6,360 124.7,360" fill="#111"/>
<line x1="58.5" y1="522" x2="211.3" y2="522" stroke="#6e6e6e" stroke-width="1.0" />
<line x1="71.5" y1="522" x2="71.5" y2="525.2" stroke="#6e6e6e" stroke-width="1.0" />
<line x1="109.42" y1="522" x2="109.42" y2="525.2" stroke="#6e6e6e" stroke-width="1.0" />
<line x1="147.34" y1="522" x2="147.34" y2="525.2" stroke="#6e6e6e" stroke-width="1.0" />
<line x1="185.26" y1="522" x2="185.26" y2="525.2" stroke="#6e6e6e" stroke-width="1.0" />
<line x1="90.46" y1="522" x2="90.46" y2="523.7" stroke="#6e6e6e" stroke-width="1.0" />
<line x1="128.38" y1="522" x2="128.38" y2="523.7" stroke="#6e6e6e" stroke-width="1.0" />
<line x1="166.3" y1="522" x2="166.3" y2="523.7" stroke="#6e6e6e" stroke-width="1.0" />
<line x1="204.22" y1="522" x2="204.22" y2="523.7" stroke="#6e6e6e" stroke-width="1.0" />
<text transform="translate(71.5,540.9) scale(0.89,1)" font-size="17.3" text-anchor="middle" font-weight="normal" fill="#000" stroke="#000" stroke-width="0.3" >3</text>
<text transform="translate(109.42,540.9) scale(0.89,1)" font-size="17.3" text-anchor="middle" font-weight="normal" fill="#000" stroke="#000" stroke-width="0.3" >6</text>
<text transform="translate(147.34,540.9) scale(0.89,1)" font-size="17.3" text-anchor="middle" font-weight="normal" fill="#000" stroke="#000" stroke-width="0.3" >9</text>
<text transform="translate(185.26,540.9) scale(0.89,1)" font-size="17.3" text-anchor="middle" font-weight="normal" fill="#000" stroke="#000" stroke-width="0.3" >12</text>
<line x1="58.5" y1="320.7" x2="58.5" y2="522" stroke="#6e6e6e" stroke-width="1.0" />
<line x1="55.3" y1="320.7" x2="58.5" y2="320.7" stroke="#6e6e6e" stroke-width="1.0" />
<line x1="55.3" y1="374.13" x2="58.5" y2="374.13" stroke="#6e6e6e" stroke-width="1.0" />
<line x1="55.3" y1="427.56" x2="58.5" y2="427.56" stroke="#6e6e6e" stroke-width="1.0" />
<line x1="55.3" y1="480.99" x2="58.5" y2="480.99" stroke="#6e6e6e" stroke-width="1.0" />
<line x1="56.8" y1="347.41" x2="58.5" y2="347.41" stroke="#6e6e6e" stroke-width="1.0" />
<line x1="56.8" y1="400.84" x2="58.5" y2="400.84" stroke="#6e6e6e" stroke-width="1.0" />
<line x1="56.8" y1="454.27" x2="58.5" y2="454.27" stroke="#6e6e6e" stroke-width="1.0" />
<line x1="56.8" y1="507.7" x2="58.5" y2="507.7" stroke="#6e6e6e" stroke-width="1.0" />
<text transform="translate(52.4,326.9) scale(0.89,1)" font-size="17.3" text-anchor="end" font-weight="normal" fill="#000" stroke="#000" stroke-width="0.3" >−15</text>
<text transform="translate(52.4,380.33) scale(0.89,1)" font-size="17.3" text-anchor="end" font-weight="normal" fill="#000" stroke="#000" stroke-width="0.3" >−16</text>
<text transform="translate(52.4,433.76) scale(0.89,1)" font-size="17.3" text-anchor="end" font-weight="normal" fill="#000" stroke="#000" stroke-width="0.3" >−17</text>
<text transform="translate(52.4,487.19) scale(0.89,1)" font-size="17.3" text-anchor="end" font-weight="normal" fill="#000" stroke="#000" stroke-width="0.3" >−18</text>
<text transform="translate(82.3,340.8) scale(0.89,1)" font-size="17.3" text-anchor="start" font-weight="normal" fill="#000" stroke="#000" stroke-width="0.3" ><tspan font-style="italic">V</tspan><tspan dx="-1.3" dy="4.2" font-size="12.5">gs</tspan><tspan dy="-4.2"> = -25 V</tspan></text>
<text transform="translate(130.6,503.4) scale(0.89,1)" font-size="17.3" text-anchor="start" font-weight="normal" fill="#000" stroke="#000" stroke-width="0.3" ><tspan font-style="italic">V</tspan><tspan dx="-1.3" dy="4.2" font-size="12.5">gs</tspan><tspan dy="-4.2"> = -10 V</tspan></text>
<text transform="translate(91.2,566) scale(0.99,1)" font-size="16" text-anchor="start" font-weight="normal" fill="#000" stroke="#000" stroke-width="0.3" >1,000/T (K<tspan dy="-6" font-size="10.5">-1</tspan><tspan dy="6">)</tspan></text>
<text transform="translate(17.5,422) rotate(-90) scale(0.99,1)" x="0" y="0" font-size="16" text-anchor="middle" fill="#000" stroke="#000" stroke-width="0.3">ln(<tspan font-style="italic">I</tspan><tspan dy="3.5" font-size="11">ds</tspan><tspan dy="-3.5">/T</tspan><tspan dy="-6" font-size="10.5">1.5</tspan><tspan dy="6">)</tspan></text>
<text x="242.9" y="296.6" font-size="17" text-anchor="start" font-weight="bold" fill="#000" stroke="#000" stroke-width="0.3" >e</text>
<polyline points="288.5,421.57 364.7,419.3 440.9,416.03" fill="none" stroke="#0f4585" stroke-width="1.15"/>
<polyline points="288.5,422.86 364.7,419.3 440.9,414.69" fill="none" stroke="#164e8f" stroke-width="1.15"/>
<polyline points="288.5,424.15 364.7,419.3 440.9,413.36" fill="none" stroke="#1c5798" stroke-width="1.15"/>
<polyline points="288.5,425.44 364.7,419.3 440.9,412.03" fill="none" stroke="#2360a2" stroke-width="1.15"/>
<polyline points="288.5,426.72 364.7,419.3 440.9,410.69" fill="none" stroke="#2969ab" stroke-width="1.15"/>
<polyline points="288.5,428.01 364.7,419.3 440.9,409.36" fill="none" stroke="#3172b2" stroke-width="1.15"/>
<polyline points="288.5,429.3 364.7,419.3 440.9,408.03" fill="none" stroke="#397ab8" stroke-width="1.15"/>
<polyline points="288.5,430.59 364.7,419.3 440.9,406.7" fill="none" stroke="#4182bd" stroke-width="1.15"/>
<polyline points="288.5,431.87 364.7,419.3 440.9,405.36" fill="none" stroke="#4889c3" stroke-width="1.15"/>
<polyline points="288.5,433.16 364.7,419.3 440.9,404.03" fill="none" stroke="#5191c8" stroke-width="1.15"/>
<polyline points="288.5,434.45 364.7,419.3 440.9,402.7" fill="none" stroke="#5c99cc" stroke-width="1.15"/>
<polyline points="288.5,435.74 364.7,419.3 440.9,401.36" fill="none" stroke="#66a1d0" stroke-width="1.15"/>
<polyline points="288.5,437.03 364.7,419.3 440.9,400.03" fill="none" stroke="#70a8d4" stroke-width="1.15"/>
<polyline points="288.5,438.31 364.7,419.3 440.9,398.7" fill="none" stroke="#7ab0d8" stroke-width="1.15"/>
<polyline points="288.5,439.6 364.7,419.3 440.9,397.36" fill="none" stroke="#85b6dc" stroke-width="1.15"/>
<polyline points="288.5,440.89 364.7,419.3 440.9,396.03" fill="none" stroke="#8fbcdf" stroke-width="1.15"/>
<polyline points="288.5,442.18 364.7,419.3 440.9,394.7" fill="none" stroke="#99c3e2" stroke-width="1.15"/>
<polyline points="288.5,443.46 364.7,419.3 440.9,393.36" fill="none" stroke="#a4c9e6" stroke-width="1.15"/>
<polyline points="288.5,444.75 364.7,419.3 440.9,392.03" fill="none" stroke="#adcee8" stroke-width="1.15"/>
<polyline points="288.5,446.04 364.7,419.3 440.9,390.7" fill="none" stroke="#b5d4ea" stroke-width="1.15"/>
<polyline points="288.5,447.33 364.7,419.3 440.9,389.36" fill="none" stroke="#bed9ed" stroke-width="1.15"/>
<polyline points="288.5,448.62 364.7,419.3 440.9,388.03" fill="none" stroke="#c7deef" stroke-width="1.15"/>
<polyline points="288.5,449.9 364.7,419.3 440.9,386.7" fill="none" stroke="#cfe2f1" stroke-width="1.15"/>
<polyline points="288.5,451.19 364.7,419.3 440.9,385.36" fill="none" stroke="#d6e6f2" stroke-width="1.15"/>
<polyline points="288.5,452.48 364.7,419.3 440.9,384.03" fill="none" stroke="#ddeaf4" stroke-width="1.15"/>
<polyline points="288.5,453.77 364.7,419.3 440.9,382.7" fill="none" stroke="#e4edf5" stroke-width="1.15"/>
<polyline points="288.5,455.05 364.7,419.3 440.9,381.36" fill="none" stroke="#eaf0f6" stroke-width="1.15"/>
<polyline points="288.5,456.34 364.7,419.3 440.9,380.03" fill="none" stroke="#edf1f4" stroke-width="1.15"/>
<polyline points="288.5,457.63 364.7,419.3 440.9,378.7" fill="none" stroke="#eff1f3" stroke-width="1.15"/>
<polyline points="288.5,458.92 364.7,419.3 440.9,377.36" fill="none" stroke="#f2f2f2" stroke-width="1.15"/>
<polyline points="288.5,460.21 364.7,419.3 440.9,376.03" fill="none" stroke="#f4f1f0" stroke-width="1.15"/>
<polyline points="288.5,460.97 364.7,419.3 440.9,375.23" fill="none" stroke="#f5efed" stroke-width="1.15"/>
<polyline points="288.5,461.74 364.7,419.3 440.9,374.44" fill="none" stroke="#f6eeea" stroke-width="1.15"/>
<polyline points="288.5,462.5 364.7,419.3 440.9,373.64" fill="none" stroke="#f7ece7" stroke-width="1.15"/>
<polyline points="288.5,463.27 364.7,419.3 440.9,372.84" fill="none" stroke="#f8eae4" stroke-width="1.15"/>
<polyline points="288.5,464.04 364.7,419.3 440.9,372.04" fill="none" stroke="#f8e8e2" stroke-width="1.15"/>
<polyline points="288.5,464.8 364.7,419.3 440.9,371.25" fill="none" stroke="#f9e7df" stroke-width="1.15"/>
<polyline points="288.5,465.57 364.7,419.3 440.9,370.45" fill="none" stroke="#fae5dc" stroke-width="1.15"/>
<polyline points="288.5,466.33 364.7,419.3 440.9,369.65" fill="none" stroke="#fbe3d9" stroke-width="1.15"/>
<polyline points="288.5,467.1 364.7,419.3 440.9,368.86" fill="none" stroke="#fce2d6" stroke-width="1.15"/>
<polyline points="288.5,467.87 364.7,419.3 440.9,368.06" fill="none" stroke="#fde0d3" stroke-width="1.15"/>
<polyline points="288.5,468.63 364.7,419.3 440.9,367.26" fill="none" stroke="#fdddce" stroke-width="1.15"/>
<polyline points="288.5,469.4 364.7,419.3 440.9,366.46" fill="none" stroke="#fdd9ca" stroke-width="1.15"/>
<polyline points="288.5,470.17 364.7,419.3 440.9,365.67" fill="none" stroke="#fdd6c6" stroke-width="1.15"/>
<polyline points="288.5,470.93 364.7,419.3 440.9,364.87" fill="none" stroke="#fdd3c1" stroke-width="1.15"/>
<polyline points="288.5,471.7 364.7,419.3 440.9,364.07" fill="none" stroke="#fcd0bc" stroke-width="1.15"/>
<polyline points="288.5,472.46 364.7,419.3 440.9,363.27" fill="none" stroke="#fcccb8" stroke-width="1.15"/>
<polyline points="288.5,473.23 364.7,419.3 440.9,362.48" fill="none" stroke="#fcc9b4" stroke-width="1.15"/>
<polyline points="288.5,474 364.7,419.3 440.9,361.68" fill="none" stroke="#fcc6af" stroke-width="1.15"/>
<polyline points="288.5,474.76 364.7,419.3 440.9,360.88" fill="none" stroke="#fcc2aa" stroke-width="1.15"/>
<polyline points="288.5,475.53 364.7,419.3 440.9,360.09" fill="none" stroke="#fcbfa6" stroke-width="1.15"/>
<polyline points="288.5,476.29 364.7,419.3 440.9,359.29" fill="none" stroke="#fcbba2" stroke-width="1.15"/>
<polyline points="288.5,477.06 364.7,419.3 440.9,358.49" fill="none" stroke="#fbb89d" stroke-width="1.15"/>
<polyline points="288.5,477.83 364.7,419.3 440.9,357.69" fill="none" stroke="#fbb499" stroke-width="1.15"/>
<polyline points="288.5,478.59 364.7,419.3 440.9,356.9" fill="none" stroke="#fab095" stroke-width="1.15"/>
<polyline points="288.5,479.36 364.7,419.3 440.9,356.1" fill="none" stroke="#faac90" stroke-width="1.15"/>
<polyline points="288.5,480.13 364.7,419.3 440.9,355.3" fill="none" stroke="#faa98c" stroke-width="1.15"/>
<polyline points="288.5,480.89 364.7,419.3 440.9,354.5" fill="none" stroke="#f9a588" stroke-width="1.15"/>
<polyline points="288.5,481.66 364.7,419.3 440.9,353.71" fill="none" stroke="#f9a184" stroke-width="1.15"/>
<polyline points="288.5,482.42 364.7,419.3 440.9,352.91" fill="none" stroke="#f89e7f" stroke-width="1.15"/>
<polyline points="288.5,483.19 364.7,419.3 440.9,352.11" fill="none" stroke="#f89a7b" stroke-width="1.15"/>
<polyline points="288.5,483.96 364.7,419.3 440.9,351.31" fill="none" stroke="#f79677" stroke-width="1.15"/>
<polyline points="288.5,484.72 364.7,419.3 440.9,350.52" fill="none" stroke="#f69172" stroke-width="1.15"/>
<polyline points="288.5,485.49 364.7,419.3 440.9,349.72" fill="none" stroke="#f68d6e" stroke-width="1.15"/>
<polyline points="288.5,486.25 364.7,419.3 440.9,348.92" fill="none" stroke="#f5886a" stroke-width="1.15"/>
<polyline points="288.5,487.02 364.7,419.3 440.9,348.13" fill="none" stroke="#f48466" stroke-width="1.15"/>
<polyline points="288.5,487.79 364.7,419.3 440.9,347.33" fill="none" stroke="#f38061" stroke-width="1.15"/>
<polyline points="288.5,488.55 364.7,419.3 440.9,346.53" fill="none" stroke="#f27b5d" stroke-width="1.15"/>
<polyline points="288.5,489.32 364.7,419.3 440.9,345.73" fill="none" stroke="#f27759" stroke-width="1.15"/>
<polyline points="288.5,490.09 364.7,419.3 440.9,344.94" fill="none" stroke="#f17254" stroke-width="1.15"/>
<polyline points="288.5,490.85 364.7,419.3 440.9,344.14" fill="none" stroke="#f06e50" stroke-width="1.15"/>
<polyline points="288.5,491.62 364.7,419.3 440.9,343.34" fill="none" stroke="#ef6a4d" stroke-width="1.15"/>
<polyline points="288.5,492.38 364.7,419.3 440.9,342.54" fill="none" stroke="#ed6549" stroke-width="1.15"/>
<polyline points="288.5,493.15 364.7,419.3 440.9,341.75" fill="none" stroke="#ec6146" stroke-width="1.15"/>
<polyline points="288.5,493.92 364.7,419.3 440.9,340.95" fill="none" stroke="#ea5d43" stroke-width="1.15"/>
<polyline points="288.5,494.68 364.7,419.3 440.9,340.15" fill="none" stroke="#e95840" stroke-width="1.15"/>
<polyline points="288.5,495.45 364.7,419.3 440.9,339.35" fill="none" stroke="#e8543c" stroke-width="1.15"/>
<polyline points="288.5,496.21 364.7,419.3 440.9,338.56" fill="none" stroke="#e65039" stroke-width="1.15"/>
<polyline points="288.5,496.98 364.7,419.3 440.9,337.76" fill="none" stroke="#e54c36" stroke-width="1.15"/>
<polyline points="288.5,497.75 364.7,419.3 440.9,336.96" fill="none" stroke="#e34732" stroke-width="1.15"/>
<polyline points="288.5,498.51 364.7,419.3 440.9,336.17" fill="none" stroke="#e2432f" stroke-width="1.15"/>
<polyline points="288.5,499.28 364.7,419.3 440.9,335.37" fill="none" stroke="#df402d" stroke-width="1.15"/>
<polyline points="288.5,500.05 364.7,419.3 440.9,334.57" fill="none" stroke="#dd3c2c" stroke-width="1.15"/>
<polyline points="288.5,500.81 364.7,419.3 440.9,333.77" fill="none" stroke="#da392a" stroke-width="1.15"/>
<polyline points="288.5,501.58 364.7,419.3 440.9,332.98" fill="none" stroke="#d83529" stroke-width="1.15"/>
<polyline points="288.5,502.34 364.7,419.3 440.9,332.18" fill="none" stroke="#d53227" stroke-width="1.15"/>
<polyline points="288.5,503.11 364.7,419.3 440.9,331.38" fill="none" stroke="#d22e25" stroke-width="1.15"/>
<polyline points="288.5,503.88 364.7,419.3 440.9,330.58" fill="none" stroke="#d02a24" stroke-width="1.15"/>
<polyline points="288.5,504.64 364.7,419.3 440.9,329.79" fill="none" stroke="#cd2722" stroke-width="1.15"/>
<polyline points="288.5,505.41 364.7,419.3 440.9,328.99" fill="none" stroke="#cb2321" stroke-width="1.15"/>
<polyline points="288.5,506.17 364.7,419.3 440.9,328.19" fill="none" stroke="#c8201f" stroke-width="1.15"/>
<polyline points="288.5,506.94 364.7,419.3 440.9,327.39" fill="none" stroke="#c41e1e" stroke-width="1.15"/>
<polyline points="288.5,507.71 364.7,419.3 440.9,326.6" fill="none" stroke="#c01c1e" stroke-width="1.15"/>
<polyline points="288.5,508.47 364.7,419.3 440.9,325.8" fill="none" stroke="#bb1a1e" stroke-width="1.15"/>
<polyline points="288.5,509.24 364.7,419.3 440.9,325" fill="none" stroke="#b7181d" stroke-width="1.15"/>
<polyline points="288.5,510.01 364.7,419.3 440.9,324.21" fill="none" stroke="#b3161c" stroke-width="1.15"/>
<polyline points="288.5,510.77 364.7,419.3 440.9,323.41" fill="none" stroke="#af151c" stroke-width="1.15"/>
<polyline points="288.5,511.54 364.7,419.3 440.9,322.61" fill="none" stroke="#ab131c" stroke-width="1.15"/>
<polyline points="288.5,512.3 364.7,419.3 440.9,321.81" fill="none" stroke="#a6111b" stroke-width="1.15"/>
<polyline points="288.5,513.07 364.7,419.3 440.9,321.02" fill="none" stroke="#a20f1a" stroke-width="1.15"/>
<polyline points="288.5,513.84 364.7,419.3 440.9,320.22" fill="none" stroke="#9e0d1a" stroke-width="1.15"/>
<line x1="288.5" y1="520" x2="441.2" y2="520" stroke="#6e6e6e" stroke-width="1.0" />
<line x1="288.5" y1="520" x2="288.5" y2="523.2" stroke="#6e6e6e" stroke-width="1.0" />
<line x1="326.6" y1="520" x2="326.6" y2="523.2" stroke="#6e6e6e" stroke-width="1.0" />
<line x1="364.7" y1="520" x2="364.7" y2="523.2" stroke="#6e6e6e" stroke-width="1.0" />
<line x1="402.8" y1="520" x2="402.8" y2="523.2" stroke="#6e6e6e" stroke-width="1.0" />
<line x1="440.9" y1="520" x2="440.9" y2="523.2" stroke="#6e6e6e" stroke-width="1.0" />
<line x1="307.55" y1="520" x2="307.55" y2="521.7" stroke="#6e6e6e" stroke-width="1.0" />
<line x1="345.65" y1="520" x2="345.65" y2="521.7" stroke="#6e6e6e" stroke-width="1.0" />
<line x1="383.75" y1="520" x2="383.75" y2="521.7" stroke="#6e6e6e" stroke-width="1.0" />
<line x1="421.85" y1="520" x2="421.85" y2="521.7" stroke="#6e6e6e" stroke-width="1.0" />
<text transform="translate(288.5,538.2) scale(0.89,1)" font-size="17.3" text-anchor="middle" font-weight="normal" fill="#000" stroke="#000" stroke-width="0.3" >−1.0</text>
<text transform="translate(326.6,538.2) scale(0.89,1)" font-size="17.3" text-anchor="middle" font-weight="normal" fill="#000" stroke="#000" stroke-width="0.3" >−0.5</text>
<text transform="translate(364.7,538.2) scale(0.89,1)" font-size="17.3" text-anchor="middle" font-weight="normal" fill="#000" stroke="#000" stroke-width="0.3" >0.0</text>
<text transform="translate(402.8,538.2) scale(0.89,1)" font-size="17.3" text-anchor="middle" font-weight="normal" fill="#000" stroke="#000" stroke-width="0.3" >0.5</text>
<text transform="translate(440.9,538.2) scale(0.89,1)" font-size="17.3" text-anchor="middle" font-weight="normal" fill="#000" stroke="#000" stroke-width="0.3" >1.0</text>
<line x1="288.5" y1="318.9" x2="288.5" y2="520" stroke="#6e6e6e" stroke-width="1.0" />
<line x1="285.3" y1="510.2" x2="288.5" y2="510.2" stroke="#6e6e6e" stroke-width="1.0" />
<line x1="285.3" y1="464.75" x2="288.5" y2="464.75" stroke="#6e6e6e" stroke-width="1.0" />
<line x1="285.3" y1="419.3" x2="288.5" y2="419.3" stroke="#6e6e6e" stroke-width="1.0" />
<line x1="285.3" y1="373.85" x2="288.5" y2="373.85" stroke="#6e6e6e" stroke-width="1.0" />
<line x1="285.3" y1="328.4" x2="288.5" y2="328.4" stroke="#6e6e6e" stroke-width="1.0" />
<line x1="286.8" y1="487.48" x2="288.5" y2="487.48" stroke="#6e6e6e" stroke-width="1.0" />
<line x1="286.8" y1="442.03" x2="288.5" y2="442.03" stroke="#6e6e6e" stroke-width="1.0" />
<line x1="286.8" y1="396.57" x2="288.5" y2="396.57" stroke="#6e6e6e" stroke-width="1.0" />
<line x1="286.8" y1="351.12" x2="288.5" y2="351.12" stroke="#6e6e6e" stroke-width="1.0" />
<text transform="translate(282,515.8) scale(0.89,1)" font-size="17.3" text-anchor="end" font-weight="normal" fill="#000" stroke="#000" stroke-width="0.3" >−100</text>
<text transform="translate(282,470.35) scale(0.89,1)" font-size="17.3" text-anchor="end" font-weight="normal" fill="#000" stroke="#000" stroke-width="0.3" >−50</text>
<text transform="translate(282,424.9) scale(0.89,1)" font-size="17.3" text-anchor="end" font-weight="normal" fill="#000" stroke="#000" stroke-width="0.3" >0</text>
<text transform="translate(282,379.45) scale(0.89,1)" font-size="17.3" text-anchor="end" font-weight="normal" fill="#000" stroke="#000" stroke-width="0.3" >50</text>
<text transform="translate(282,334) scale(0.89,1)" font-size="17.3" text-anchor="end" font-weight="normal" fill="#000" stroke="#000" stroke-width="0.3" >100</text>
<text transform="translate(295,332.6) scale(0.89,1)" font-size="17.3" text-anchor="start" font-weight="normal" fill="#000" stroke="#000" stroke-width="0.3" ><tspan font-style="italic">I</tspan><tspan dx="-0.9" dy="4.2" font-size="12.5">on</tspan><tspan dy="-4.2"> = 124 µA µm</tspan><tspan dy="-6.4" font-size="11.5">-1</tspan></text>
<text transform="translate(354.3,505.5) scale(0.89,1)" font-size="17.3" text-anchor="start" font-weight="normal" fill="#000" stroke="#000" stroke-width="0.3" ><tspan font-style="italic">L</tspan><tspan dx="0" dy="4.2" font-size="12.5">ch</tspan><tspan dy="-4.2"> = 130 nm</tspan></text>
<text transform="translate(342.5,564) scale(0.99,1)" font-size="16" text-anchor="start" font-weight="normal" fill="#000" stroke="#000" stroke-width="0.3" ><tspan font-style="italic">V</tspan><tspan dx="-1.3" dy="3.8" font-size="11.5">ds</tspan><tspan dy="-3.8"> (V)</tspan></text>
<text transform="translate(241.9,422) rotate(-90) scale(0.99,1)" x="0" y="0" font-size="16" text-anchor="middle" fill="#000" stroke="#000" stroke-width="0.3"><tspan font-style="italic">I</tspan><tspan dx="0.9" dy="3.8" font-size="11.5">ds</tspan><tspan dy="-3.8"> (</tspan>µA µm<tspan dy="-6.5" font-size="10.5">-1</tspan><tspan dy="6.5">)</tspan></text>
<text x="467.5" y="296" font-size="17" text-anchor="start" font-weight="bold" fill="#000" stroke="#000" stroke-width="0.3" >f</text>
<polygon points="671,507 676,512 671,517 666,512" fill="#fff" stroke="#fdeae2" stroke-width="1.7"/>
<polygon points="650.4,506.5 655.4,511.5 650.4,516.5 645.4,511.5" fill="#fff" stroke="#fdeae2" stroke-width="1.7"/>
<polygon points="629,504.5 634,509.5 629,514.5 624,509.5" fill="#fff" stroke="#fdeae2" stroke-width="1.7"/>
<polygon points="607.2,504 612.2,509 607.2,514 602.2,509" fill="#fff" stroke="#fdeae2" stroke-width="1.7"/>
<polygon points="616.1,503 621.1,508 616.1,513 611.1,508" fill="#fff" stroke="#fdeae2" stroke-width="1.7"/>
<polygon points="585.5,502.5 590.5,507.5 585.5,512.5 580.5,507.5" fill="#fff" stroke="#fdeae2" stroke-width="1.7"/>
<polygon points="596.3,500 601.3,505 596.3,510 591.3,505" fill="#fff" stroke="#fdeae2" stroke-width="1.7"/>
<polygon points="573.9,495 578.9,500 573.9,505 568.9,500" fill="#fff" stroke="#fdeae2" stroke-width="1.7"/>
<polygon points="598.6,491 603.6,496 598.6,501 593.6,496" fill="#fff" stroke="#fdeae2" stroke-width="1.7"/>
<polygon points="590.2,487 595.2,492 590.2,497 585.2,492" fill="#fff" stroke="#fdeae2" stroke-width="1.7"/>
<polygon points="578.1,485 583.1,490 578.1,495 573.1,490" fill="#fff" stroke="#fdeae2" stroke-width="1.7"/>
<polygon points="570.9,483 575.9,488 570.9,493 565.9,488" fill="#fff" stroke="#fdeae2" stroke-width="1.7"/>
<polygon points="556.2,481 561.2,486 556.2,491 551.2,486" fill="#fff" stroke="#fdeae2" stroke-width="1.7"/>
<polygon points="551.2,479 556.2,484 551.2,489 546.2,484" fill="#fff" stroke="#fdeae2" stroke-width="1.7"/>
<polygon points="565.1,477 570.1,482 565.1,487 560.1,482" fill="#fff" stroke="#fdeae2" stroke-width="1.7"/>
<polygon points="542.1,400.5 547.1,405.5 542.1,410.5 537.1,405.5" fill="#fff" stroke="#fdeae2" stroke-width="1.7"/>
<polygon points="671,504.6 676,509.6 671,514.6 666,509.6" fill="#fff" stroke="#fcd5c5" stroke-width="1.7"/>
<polygon points="629,502.29 634,507.29 629,512.29 624,507.29" fill="#fff" stroke="#fcd5c5" stroke-width="1.7"/>
<polygon points="616.1,500.3 621.1,505.3 616.1,510.3 611.1,505.3" fill="#fff" stroke="#fcd5c5" stroke-width="1.7"/>
<polygon points="585.5,499.9 590.5,504.9 585.5,509.9 580.5,504.9" fill="#fff" stroke="#fcd5c5" stroke-width="1.7"/>
<polygon points="573.9,491.83 578.9,496.83 573.9,501.83 568.9,496.83" fill="#fff" stroke="#fcd5c5" stroke-width="1.7"/>
<polygon points="598.6,488.6 603.6,493.6 598.6,498.6 593.6,493.6" fill="#fff" stroke="#fcd5c5" stroke-width="1.7"/>
<polygon points="590.2,484.1 595.2,489.1 590.2,494.1 585.2,489.1" fill="#fff" stroke="#fcd5c5" stroke-width="1.7"/>
<polygon points="578.1,481.82 583.1,486.82 578.1,491.82 573.1,486.82" fill="#fff" stroke="#fcd5c5" stroke-width="1.7"/>
<polygon points="570.9,479.51 575.9,484.51 570.9,489.51 565.9,484.51" fill="#fff" stroke="#fcd5c5" stroke-width="1.7"/>
<polygon points="556.2,478.13 561.2,483.13 556.2,488.13 551.2,483.13" fill="#fff" stroke="#fcd5c5" stroke-width="1.7"/>
<polygon points="565.1,473.48 570.1,478.48 565.1,483.48 560.1,478.48" fill="#fff" stroke="#fcd5c5" stroke-width="1.7"/>
<polygon points="551.2,471.56 556.2,476.56 551.2,481.56 546.2,476.56" fill="#fff" stroke="#fcd5c5" stroke-width="1.7"/>
<polygon points="542.1,393.7 547.1,398.7 542.1,403.7 537.1,398.7" fill="#fff" stroke="#fcd5c5" stroke-width="1.7"/>
<polygon points="650.4,504.77 655.4,509.77 650.4,514.77 645.4,509.77" fill="#fff" stroke="#fbb89e" stroke-width="1.7"/>
<polygon points="607.2,501.95 612.2,506.95 607.2,511.95 602.2,506.95" fill="#fff" stroke="#fbb89e" stroke-width="1.7"/>
<polygon points="629,500.07 634,505.07 629,510.07 624,505.07" fill="#fff" stroke="#fbb89e" stroke-width="1.7"/>
<polygon points="596.3,497.8 601.3,502.8 596.3,507.8 591.3,502.8" fill="#fff" stroke="#fbb89e" stroke-width="1.7"/>
<polygon points="616.1,497.6 621.1,502.6 616.1,507.6 611.1,502.6" fill="#fff" stroke="#fbb89e" stroke-width="1.7"/>
<polygon points="573.9,488.67 578.9,493.67 573.9,498.67 568.9,493.67" fill="#fff" stroke="#fbb89e" stroke-width="1.7"/>
<polygon points="578.1,478.65 583.1,483.65 578.1,488.65 573.1,483.65" fill="#fff" stroke="#fbb89e" stroke-width="1.7"/>
<polygon points="570.9,476.02 575.9,481.02 570.9,486.02 565.9,481.02" fill="#fff" stroke="#fbb89e" stroke-width="1.7"/>
<polygon points="556.2,475.27 561.2,480.27 556.2,485.27 551.2,480.27" fill="#fff" stroke="#fbb89e" stroke-width="1.7"/>
<polygon points="565.1,469.96 570.1,474.96 565.1,479.96 560.1,474.96" fill="#fff" stroke="#fbb89e" stroke-width="1.7"/>
<polygon points="551.2,464.12 556.2,469.12 551.2,474.12 546.2,469.12" fill="#fff" stroke="#fbb89e" stroke-width="1.7"/>
<polygon points="542.1,386.9 547.1,391.9 542.1,396.9 537.1,391.9" fill="#fff" stroke="#fbb89e" stroke-width="1.7"/>
<polygon points="671,502.2 676,507.2 671,512.2 666,507.2" fill="#fff" stroke="#f99b7c" stroke-width="1.7"/>
<polygon points="607.2,499.9 612.2,504.9 607.2,509.9 602.2,504.9" fill="#fff" stroke="#f99b7c" stroke-width="1.7"/>
<polygon points="585.5,497.3 590.5,502.3 585.5,507.3 580.5,502.3" fill="#fff" stroke="#f99b7c" stroke-width="1.7"/>
<polygon points="596.3,495.6 601.3,500.6 596.3,505.6 591.3,500.6" fill="#fff" stroke="#f99b7c" stroke-width="1.7"/>
<polygon points="616.1,494.9 621.1,499.9 616.1,504.9 611.1,499.9" fill="#fff" stroke="#f99b7c" stroke-width="1.7"/>
<polygon points="598.6,486.2 603.6,491.2 598.6,496.2 593.6,491.2" fill="#fff" stroke="#f99b7c" stroke-width="1.7"/>
<polygon points="573.9,485.5 578.9,490.5 573.9,495.5 568.9,490.5" fill="#fff" stroke="#f99b7c" stroke-width="1.7"/>
<polygon points="590.2,481.2 595.2,486.2 590.2,491.2 585.2,486.2" fill="#fff" stroke="#f99b7c" stroke-width="1.7"/>
<polygon points="570.9,472.53 575.9,477.53 570.9,482.53 565.9,477.53" fill="#fff" stroke="#f99b7c" stroke-width="1.7"/>
<polygon points="556.2,472.4 561.2,477.4 556.2,482.4 551.2,477.4" fill="#fff" stroke="#f99b7c" stroke-width="1.7"/>
<polygon points="565.1,466.43 570.1,471.43 565.1,476.43 560.1,471.43" fill="#fff" stroke="#f99b7c" stroke-width="1.7"/>
<polygon points="542.1,380.1 547.1,385.1 542.1,390.1 537.1,385.1" fill="#fff" stroke="#f99b7c" stroke-width="1.7"/>
<polygon points="650.4,503.03 655.4,508.03 650.4,513.03 645.4,508.03" fill="#fff" stroke="#f77c5c" stroke-width="1.7"/>
<polygon points="671,499.8 676,504.8 671,509.8 666,504.8" fill="#fff" stroke="#f77c5c" stroke-width="1.7"/>
<polygon points="629,497.86 634,502.86 629,507.86 624,502.86" fill="#fff" stroke="#f77c5c" stroke-width="1.7"/>
<polygon points="585.5,494.7 590.5,499.7 585.5,504.7 580.5,499.7" fill="#fff" stroke="#f77c5c" stroke-width="1.7"/>
<polygon points="596.3,493.4 601.3,498.4 596.3,503.4 591.3,498.4" fill="#fff" stroke="#f77c5c" stroke-width="1.7"/>
<polygon points="598.6,483.8 603.6,488.8 598.6,493.8 593.6,488.8" fill="#fff" stroke="#f77c5c" stroke-width="1.7"/>
<polygon points="590.2,478.3 595.2,483.3 590.2,488.3 585.2,483.3" fill="#fff" stroke="#f77c5c" stroke-width="1.7"/>
<polygon points="578.1,475.48 583.1,480.48 578.1,485.48 573.1,480.48" fill="#fff" stroke="#f77c5c" stroke-width="1.7"/>
<polygon points="570.9,469.04 575.9,474.04 570.9,479.04 565.9,474.04" fill="#fff" stroke="#f77c5c" stroke-width="1.7"/>
<polygon points="565.1,462.91 570.1,467.91 565.1,472.91 560.1,467.91" fill="#fff" stroke="#f77c5c" stroke-width="1.7"/>
<polygon points="551.2,456.69 556.2,461.69 551.2,466.69 546.2,461.69" fill="#fff" stroke="#f77c5c" stroke-width="1.7"/>
<polygon points="542.1,373.3 547.1,378.3 542.1,383.3 537.1,378.3" fill="#fff" stroke="#f77c5c" stroke-width="1.7"/>
<polygon points="607.2,497.85 612.2,502.85 607.2,507.85 602.2,502.85" fill="#fff" stroke="#f25e40" stroke-width="1.7"/>
<polygon points="629,495.65 634,500.65 629,505.65 624,500.65" fill="#fff" stroke="#f25e40" stroke-width="1.7"/>
<polygon points="616.1,492.2 621.1,497.2 616.1,502.2 611.1,497.2" fill="#fff" stroke="#f25e40" stroke-width="1.7"/>
<polygon points="573.9,482.33 578.9,487.33 573.9,492.33 568.9,487.33" fill="#fff" stroke="#f25e40" stroke-width="1.7"/>
<polygon points="598.6,481.4 603.6,486.4 598.6,491.4 593.6,486.4" fill="#fff" stroke="#f25e40" stroke-width="1.7"/>
<polygon points="590.2,475.4 595.2,480.4 590.2,485.4 585.2,480.4" fill="#fff" stroke="#f25e40" stroke-width="1.7"/>
<polygon points="578.1,472.3 583.1,477.3 578.1,482.3 573.1,477.3" fill="#fff" stroke="#f25e40" stroke-width="1.7"/>
<polygon points="556.2,469.53 561.2,474.53 556.2,479.53 551.2,474.53" fill="#fff" stroke="#f25e40" stroke-width="1.7"/>
<polygon points="551.2,449.25 556.2,454.25 551.2,459.25 546.2,454.25" fill="#fff" stroke="#f25e40" stroke-width="1.7"/>
<polygon points="650.4,501.3 655.4,506.3 650.4,511.3 645.4,506.3" fill="#fff" stroke="#e8432f" stroke-width="1.7"/>
<polygon points="671,497.4 676,502.4 671,507.4 666,502.4" fill="#fff" stroke="#e8432f" stroke-width="1.7"/>
<polygon points="629,493.44 634,498.44 629,503.44 624,498.44" fill="#fff" stroke="#e8432f" stroke-width="1.7"/>
<polygon points="585.5,492.1 590.5,497.1 585.5,502.1 580.5,497.1" fill="#fff" stroke="#e8432f" stroke-width="1.7"/>
<polygon points="596.3,491.2 601.3,496.2 596.3,501.2 591.3,496.2" fill="#fff" stroke="#e8432f" stroke-width="1.7"/>
<polygon points="616.1,489.5 621.1,494.5 616.1,499.5 611.1,494.5" fill="#fff" stroke="#e8432f" stroke-width="1.7"/>
<polygon points="573.9,479.17 578.9,484.17 573.9,489.17 568.9,484.17" fill="#fff" stroke="#e8432f" stroke-width="1.7"/>
<polygon points="578.1,469.12 583.1,474.12 578.1,479.12 573.1,474.12" fill="#fff" stroke="#e8432f" stroke-width="1.7"/>
<polygon points="556.2,466.67 561.2,471.67 556.2,476.67 551.2,471.67" fill="#fff" stroke="#e8432f" stroke-width="1.7"/>
<polygon points="570.9,465.56 575.9,470.56 570.9,475.56 565.9,470.56" fill="#fff" stroke="#e8432f" stroke-width="1.7"/>
<polygon points="565.1,459.39 570.1,464.39 565.1,469.39 560.1,464.39" fill="#fff" stroke="#e8432f" stroke-width="1.7"/>
<polygon points="551.2,441.81 556.2,446.81 551.2,451.81 546.2,446.81" fill="#fff" stroke="#e8432f" stroke-width="1.7"/>
<polygon points="542.1,366.5 547.1,371.5 542.1,376.5 537.1,371.5" fill="#fff" stroke="#e8432f" stroke-width="1.7"/>
<polygon points="607.2,495.8 612.2,500.8 607.2,505.8 602.2,500.8" fill="#fff" stroke="#d62c26" stroke-width="1.7"/>
<polygon points="671,495 676,500 671,505 666,500" fill="#fff" stroke="#d62c26" stroke-width="1.7"/>
<polygon points="585.5,489.5 590.5,494.5 585.5,499.5 580.5,494.5" fill="#fff" stroke="#d62c26" stroke-width="1.7"/>
<polygon points="616.1,486.8 621.1,491.8 616.1,496.8 611.1,491.8" fill="#fff" stroke="#d62c26" stroke-width="1.7"/>
<polygon points="598.6,479 603.6,484 598.6,489 593.6,484" fill="#fff" stroke="#d62c26" stroke-width="1.7"/>
<polygon points="573.9,476 578.9,481 573.9,486 568.9,481" fill="#fff" stroke="#d62c26" stroke-width="1.7"/>
<polygon points="590.2,472.5 595.2,477.5 590.2,482.5 585.2,477.5" fill="#fff" stroke="#d62c26" stroke-width="1.7"/>
<polygon points="556.2,463.8 561.2,468.8 556.2,473.8 551.2,468.8" fill="#fff" stroke="#d62c26" stroke-width="1.7"/>
<polygon points="570.9,462.07 575.9,467.07 570.9,472.07 565.9,467.07" fill="#fff" stroke="#d62c26" stroke-width="1.7"/>
<polygon points="565.1,455.87 570.1,460.87 565.1,465.87 560.1,460.87" fill="#fff" stroke="#d62c26" stroke-width="1.7"/>
<polygon points="542.1,359.7 547.1,364.7 542.1,369.7 537.1,364.7" fill="#fff" stroke="#d62c26" stroke-width="1.7"/>
<polygon points="629,491.23 634,496.23 629,501.23 624,496.23" fill="#fff" stroke="#c01b22" stroke-width="1.7"/>
<polygon points="598.6,476.6 603.6,481.6 598.6,486.6 593.6,481.6" fill="#fff" stroke="#c01b22" stroke-width="1.7"/>
<polygon points="590.2,469.6 595.2,474.6 590.2,479.6 585.2,474.6" fill="#fff" stroke="#c01b22" stroke-width="1.7"/>
<polygon points="578.1,465.95 583.1,470.95 578.1,475.95 573.1,470.95" fill="#fff" stroke="#c01b22" stroke-width="1.7"/>
<polygon points="570.9,458.58 575.9,463.58 570.9,468.58 565.9,463.58" fill="#fff" stroke="#c01b22" stroke-width="1.7"/>
<polygon points="565.1,452.34 570.1,457.34 565.1,462.34 560.1,457.34" fill="#fff" stroke="#c01b22" stroke-width="1.7"/>
<polygon points="551.2,434.38 556.2,439.38 551.2,444.38 546.2,439.38" fill="#fff" stroke="#c01b22" stroke-width="1.7"/>
<polygon points="542.1,352.9 547.1,357.9 542.1,362.9 537.1,357.9" fill="#fff" stroke="#c01b22" stroke-width="1.7"/>
<polygon points="629,489.01 634,494.01 629,499.01 624,494.01" fill="#fff" stroke="#a8121f" stroke-width="1.7"/>
<polygon points="578.1,462.78 583.1,467.78 578.1,472.78 573.1,467.78" fill="#fff" stroke="#a8121f" stroke-width="1.7"/>
<polygon points="570.9,455.09 575.9,460.09 570.9,465.09 565.9,460.09" fill="#fff" stroke="#a8121f" stroke-width="1.7"/>
<polygon points="565.1,448.82 570.1,453.82 565.1,458.82 560.1,453.82" fill="#fff" stroke="#a8121f" stroke-width="1.7"/>
<polygon points="551.2,426.94 556.2,431.94 551.2,436.94 546.2,431.94" fill="#fff" stroke="#a8121f" stroke-width="1.7"/>
<polygon points="542.1,346.1 547.1,351.1 542.1,356.1 537.1,351.1" fill="#fff" stroke="#a8121f" stroke-width="1.7"/>
<polygon points="629,486.8 634,491.8 629,496.8 624,491.8" fill="#fff" stroke="#8a0c1e" stroke-width="1.7"/>
<polygon points="578.1,459.6 583.1,464.6 578.1,469.6 573.1,464.6" fill="#fff" stroke="#8a0c1e" stroke-width="1.7"/>
<polygon points="570.9,451.6 575.9,456.6 570.9,461.6 565.9,456.6" fill="#fff" stroke="#8a0c1e" stroke-width="1.7"/>
<polygon points="565.1,445.3 570.1,450.3 565.1,455.3 560.1,450.3" fill="#fff" stroke="#8a0c1e" stroke-width="1.7"/>
<polygon points="551.2,419.5 556.2,424.5 551.2,429.5 546.2,424.5" fill="#fff" stroke="#8a0c1e" stroke-width="1.7"/>
<polygon points="542.1,339.3 547.1,344.3 542.1,349.3 537.1,344.3" fill="#fff" stroke="#8a0c1e" stroke-width="1.7"/>
<line x1="528.5" y1="523.5" x2="681.5" y2="523.5" stroke="#6e6e6e" stroke-width="1.0" />
<line x1="537.5" y1="523.5" x2="537.5" y2="526.7" stroke="#6e6e6e" stroke-width="1.0" />
<line x1="573.38" y1="523.5" x2="573.38" y2="526.7" stroke="#6e6e6e" stroke-width="1.0" />
<line x1="609.26" y1="523.5" x2="609.26" y2="526.7" stroke="#6e6e6e" stroke-width="1.0" />
<line x1="645.14" y1="523.5" x2="645.14" y2="526.7" stroke="#6e6e6e" stroke-width="1.0" />
<line x1="681.02" y1="523.5" x2="681.02" y2="526.7" stroke="#6e6e6e" stroke-width="1.0" />
<line x1="555.44" y1="523.5" x2="555.44" y2="525.2" stroke="#6e6e6e" stroke-width="1.0" />
<line x1="591.32" y1="523.5" x2="591.32" y2="525.2" stroke="#6e6e6e" stroke-width="1.0" />
<line x1="627.2" y1="523.5" x2="627.2" y2="525.2" stroke="#6e6e6e" stroke-width="1.0" />
<line x1="663.08" y1="523.5" x2="663.08" y2="525.2" stroke="#6e6e6e" stroke-width="1.0" />
<text transform="translate(537.5,542.3) scale(0.89,1)" font-size="17.3" text-anchor="middle" font-weight="normal" fill="#000" stroke="#000" stroke-width="0.3" >0</text>
<text transform="translate(573.38,542.3) scale(0.89,1)" font-size="17.3" text-anchor="middle" font-weight="normal" fill="#000" stroke="#000" stroke-width="0.3" >1</text>
<text transform="translate(609.26,542.3) scale(0.89,1)" font-size="17.3" text-anchor="middle" font-weight="normal" fill="#000" stroke="#000" stroke-width="0.3" >2</text>
<text transform="translate(645.14,542.3) scale(0.89,1)" font-size="17.3" text-anchor="middle" font-weight="normal" fill="#000" stroke="#000" stroke-width="0.3" >3</text>
<text transform="translate(681.02,542.3) scale(0.89,1)" font-size="17.3" text-anchor="middle" font-weight="normal" fill="#000" stroke="#000" stroke-width="0.3" >4</text>
<line x1="528.5" y1="321.7" x2="528.5" y2="523.5" stroke="#6e6e6e" stroke-width="1.0" />
<line x1="525.3" y1="523.6" x2="528.5" y2="523.6" stroke="#6e6e6e" stroke-width="1.0" />
<line x1="525.3" y1="494.86" x2="528.5" y2="494.86" stroke="#6e6e6e" stroke-width="1.0" />
<line x1="525.3" y1="466.12" x2="528.5" y2="466.12" stroke="#6e6e6e" stroke-width="1.0" />
<line x1="525.3" y1="437.38" x2="528.5" y2="437.38" stroke="#6e6e6e" stroke-width="1.0" />
<line x1="525.3" y1="408.64" x2="528.5" y2="408.64" stroke="#6e6e6e" stroke-width="1.0" />
<line x1="525.3" y1="379.9" x2="528.5" y2="379.9" stroke="#6e6e6e" stroke-width="1.0" />
<line x1="525.3" y1="351.16" x2="528.5" y2="351.16" stroke="#6e6e6e" stroke-width="1.0" />
<line x1="525.3" y1="322.42" x2="528.5" y2="322.42" stroke="#6e6e6e" stroke-width="1.0" />
<line x1="526.8" y1="509.23" x2="528.5" y2="509.23" stroke="#6e6e6e" stroke-width="1.0" />
<line x1="526.8" y1="480.49" x2="528.5" y2="480.49" stroke="#6e6e6e" stroke-width="1.0" />
<line x1="526.8" y1="451.75" x2="528.5" y2="451.75" stroke="#6e6e6e" stroke-width="1.0" />
<line x1="526.8" y1="423.01" x2="528.5" y2="423.01" stroke="#6e6e6e" stroke-width="1.0" />
<line x1="526.8" y1="394.27" x2="528.5" y2="394.27" stroke="#6e6e6e" stroke-width="1.0" />
<line x1="526.8" y1="365.53" x2="528.5" y2="365.53" stroke="#6e6e6e" stroke-width="1.0" />
<line x1="526.8" y1="336.79" x2="528.5" y2="336.79" stroke="#6e6e6e" stroke-width="1.0" />
<text transform="translate(521.8,529.8) scale(0.89,1)" font-size="17.3" text-anchor="end" font-weight="normal" fill="#000" stroke="#000" stroke-width="0.3" >0</text>
<text transform="translate(521.8,501.06) scale(0.89,1)" font-size="17.3" text-anchor="end" font-weight="normal" fill="#000" stroke="#000" stroke-width="0.3" >20</text>
<text transform="translate(521.8,472.32) scale(0.89,1)" font-size="17.3" text-anchor="end" font-weight="normal" fill="#000" stroke="#000" stroke-width="0.3" >40</text>
<text transform="translate(521.8,443.58) scale(0.89,1)" font-size="17.3" text-anchor="end" font-weight="normal" fill="#000" stroke="#000" stroke-width="0.3" >60</text>
<text transform="translate(521.8,414.84) scale(0.89,1)" font-size="17.3" text-anchor="end" font-weight="normal" fill="#000" stroke="#000" stroke-width="0.3" >80</text>
<text transform="translate(521.8,386.1) scale(0.89,1)" font-size="17.3" text-anchor="end" font-weight="normal" fill="#000" stroke="#000" stroke-width="0.3" >100</text>
<text transform="translate(521.8,357.36) scale(0.89,1)" font-size="17.3" text-anchor="end" font-weight="normal" fill="#000" stroke="#000" stroke-width="0.3" >120</text>
<text transform="translate(521.8,328.62) scale(0.89,1)" font-size="17.3" text-anchor="end" font-weight="normal" fill="#000" stroke="#000" stroke-width="0.3" >140</text>
<text transform="translate(569.8,341) scale(0.89,1)" font-size="17.3" text-anchor="start" font-weight="normal" fill="#000" stroke="#000" stroke-width="0.3" ><tspan font-style="italic">V</tspan><tspan dx="-1.3" dy="4.2" font-size="12.5">ds</tspan><tspan dy="-4.2"> = -1 V</tspan></text>
<text transform="translate(569.2,366.3) scale(0.89,1)" font-size="17.3" text-anchor="start" font-weight="normal" fill="#000" stroke="#000" stroke-width="0.3" ><tspan font-style="italic">h</tspan> ~ 1×<tspan dx="1.2"> 10</tspan><tspan dy="-6.4" font-size="11.5">13</tspan><tspan dx="0.3" dy="6.4"> cm</tspan><tspan dx="0.4" dy="-6.4" font-size="11.5">-2</tspan></text>
<text transform="translate(534,568.3) scale(0.99,1)" font-size="16" text-anchor="start" font-weight="normal" fill="#000" stroke="#000" stroke-width="0.3" >Channel length (µm)</text>
<text transform="translate(490.3,424) rotate(-90) scale(0.99,1)" x="0" y="0" font-size="16" text-anchor="middle" fill="#000" stroke="#000" stroke-width="0.3">Current density (µA µm<tspan dy="-6.5" font-size="10.5">-1</tspan><tspan dy="6.5">)</tspan></text>
<text x="12.3" y="602.5" font-size="17" text-anchor="start" font-weight="bold" fill="#000" stroke="#000" stroke-width="0.3" >g</text>
<line x1="67.1" y1="825.5" x2="300.8" y2="825.5" stroke="#6e6e6e" stroke-width="1.0" />
<line x1="70.5" y1="825.5" x2="70.5" y2="828.7" stroke="#6e6e6e" stroke-width="1.0" />
<line x1="108.72" y1="825.5" x2="108.72" y2="828.7" stroke="#6e6e6e" stroke-width="1.0" />
<line x1="146.94" y1="825.5" x2="146.94" y2="828.7" stroke="#6e6e6e" stroke-width="1.0" />
<line x1="185.16" y1="825.5" x2="185.16" y2="828.7" stroke="#6e6e6e" stroke-width="1.0" />
<line x1="223.38" y1="825.5" x2="223.38" y2="828.7" stroke="#6e6e6e" stroke-width="1.0" />
<line x1="261.6" y1="825.5" x2="261.6" y2="828.7" stroke="#6e6e6e" stroke-width="1.0" />
<line x1="299.82" y1="825.5" x2="299.82" y2="828.7" stroke="#6e6e6e" stroke-width="1.0" />
<line x1="82.01" y1="825.5" x2="82.01" y2="827.2" stroke="#6e6e6e" stroke-width="1.0" />
<line x1="88.74" y1="825.5" x2="88.74" y2="827.2" stroke="#6e6e6e" stroke-width="1.0" />
<line x1="93.51" y1="825.5" x2="93.51" y2="827.2" stroke="#6e6e6e" stroke-width="1.0" />
<line x1="97.21" y1="825.5" x2="97.21" y2="827.2" stroke="#6e6e6e" stroke-width="1.0" />
<line x1="100.24" y1="825.5" x2="100.24" y2="827.2" stroke="#6e6e6e" stroke-width="1.0" />
<line x1="102.8" y1="825.5" x2="102.8" y2="827.2" stroke="#6e6e6e" stroke-width="1.0" />
<line x1="105.02" y1="825.5" x2="105.02" y2="827.2" stroke="#6e6e6e" stroke-width="1.0" />
<line x1="106.97" y1="825.5" x2="106.97" y2="827.2" stroke="#6e6e6e" stroke-width="1.0" />
<line x1="120.23" y1="825.5" x2="120.23" y2="827.2" stroke="#6e6e6e" stroke-width="1.0" />
<line x1="126.96" y1="825.5" x2="126.96" y2="827.2" stroke="#6e6e6e" stroke-width="1.0" />
<line x1="131.73" y1="825.5" x2="131.73" y2="827.2" stroke="#6e6e6e" stroke-width="1.0" />
<line x1="135.43" y1="825.5" x2="135.43" y2="827.2" stroke="#6e6e6e" stroke-width="1.0" />
<line x1="138.46" y1="825.5" x2="138.46" y2="827.2" stroke="#6e6e6e" stroke-width="1.0" />
<line x1="141.02" y1="825.5" x2="141.02" y2="827.2" stroke="#6e6e6e" stroke-width="1.0" />
<line x1="143.24" y1="825.5" x2="143.24" y2="827.2" stroke="#6e6e6e" stroke-width="1.0" />
<line x1="145.19" y1="825.5" x2="145.19" y2="827.2" stroke="#6e6e6e" stroke-width="1.0" />
<line x1="158.45" y1="825.5" x2="158.45" y2="827.2" stroke="#6e6e6e" stroke-width="1.0" />
<line x1="165.18" y1="825.5" x2="165.18" y2="827.2" stroke="#6e6e6e" stroke-width="1.0" />
<line x1="169.95" y1="825.5" x2="169.95" y2="827.2" stroke="#6e6e6e" stroke-width="1.0" />
<line x1="173.65" y1="825.5" x2="173.65" y2="827.2" stroke="#6e6e6e" stroke-width="1.0" />
<line x1="176.68" y1="825.5" x2="176.68" y2="827.2" stroke="#6e6e6e" stroke-width="1.0" />
<line x1="179.24" y1="825.5" x2="179.24" y2="827.2" stroke="#6e6e6e" stroke-width="1.0" />
<line x1="181.46" y1="825.5" x2="181.46" y2="827.2" stroke="#6e6e6e" stroke-width="1.0" />
<line x1="183.41" y1="825.5" x2="183.41" y2="827.2" stroke="#6e6e6e" stroke-width="1.0" />
<line x1="196.67" y1="825.5" x2="196.67" y2="827.2" stroke="#6e6e6e" stroke-width="1.0" />
<line x1="203.4" y1="825.5" x2="203.4" y2="827.2" stroke="#6e6e6e" stroke-width="1.0" />
<line x1="208.17" y1="825.5" x2="208.17" y2="827.2" stroke="#6e6e6e" stroke-width="1.0" />
<line x1="211.87" y1="825.5" x2="211.87" y2="827.2" stroke="#6e6e6e" stroke-width="1.0" />
<line x1="214.9" y1="825.5" x2="214.9" y2="827.2" stroke="#6e6e6e" stroke-width="1.0" />
<line x1="217.46" y1="825.5" x2="217.46" y2="827.2" stroke="#6e6e6e" stroke-width="1.0" />
<line x1="219.68" y1="825.5" x2="219.68" y2="827.2" stroke="#6e6e6e" stroke-width="1.0" />
<line x1="221.63" y1="825.5" x2="221.63" y2="827.2" stroke="#6e6e6e" stroke-width="1.0" />
<line x1="234.89" y1="825.5" x2="234.89" y2="827.2" stroke="#6e6e6e" stroke-width="1.0" />
<line x1="241.62" y1="825.5" x2="241.62" y2="827.2" stroke="#6e6e6e" stroke-width="1.0" />
<line x1="246.39" y1="825.5" x2="246.39" y2="827.2" stroke="#6e6e6e" stroke-width="1.0" />
<line x1="250.09" y1="825.5" x2="250.09" y2="827.2" stroke="#6e6e6e" stroke-width="1.0" />
<line x1="253.12" y1="825.5" x2="253.12" y2="827.2" stroke="#6e6e6e" stroke-width="1.0" />
<line x1="255.68" y1="825.5" x2="255.68" y2="827.2" stroke="#6e6e6e" stroke-width="1.0" />
<line x1="257.9" y1="825.5" x2="257.9" y2="827.2" stroke="#6e6e6e" stroke-width="1.0" />
<line x1="259.85" y1="825.5" x2="259.85" y2="827.2" stroke="#6e6e6e" stroke-width="1.0" />
<line x1="273.11" y1="825.5" x2="273.11" y2="827.2" stroke="#6e6e6e" stroke-width="1.0" />
<line x1="279.84" y1="825.5" x2="279.84" y2="827.2" stroke="#6e6e6e" stroke-width="1.0" />
<line x1="284.61" y1="825.5" x2="284.61" y2="827.2" stroke="#6e6e6e" stroke-width="1.0" />
<line x1="288.31" y1="825.5" x2="288.31" y2="827.2" stroke="#6e6e6e" stroke-width="1.0" />
<line x1="291.34" y1="825.5" x2="291.34" y2="827.2" stroke="#6e6e6e" stroke-width="1.0" />
<line x1="293.9" y1="825.5" x2="293.9" y2="827.2" stroke="#6e6e6e" stroke-width="1.0" />
<line x1="296.12" y1="825.5" x2="296.12" y2="827.2" stroke="#6e6e6e" stroke-width="1.0" />
<line x1="298.07" y1="825.5" x2="298.07" y2="827.2" stroke="#6e6e6e" stroke-width="1.0" />
<text transform="translate(70.5,847) scale(0.89,1)" font-size="17.3" text-anchor="middle" font-weight="normal" fill="#000" stroke="#000" stroke-width="0.3" >10<tspan dy="-6.4" font-size="11.5">2</tspan></text>
<text transform="translate(146.94,847) scale(0.89,1)" font-size="17.3" text-anchor="middle" font-weight="normal" fill="#000" stroke="#000" stroke-width="0.3" >10<tspan dy="-6.4" font-size="11.5">4</tspan></text>
<text transform="translate(223.38,847) scale(0.89,1)" font-size="17.3" text-anchor="middle" font-weight="normal" fill="#000" stroke="#000" stroke-width="0.3" >10<tspan dy="-6.4" font-size="11.5">6</tspan></text>
<text transform="translate(299.82,847) scale(0.89,1)" font-size="17.3" text-anchor="middle" font-weight="normal" fill="#000" stroke="#000" stroke-width="0.3" >10<tspan dy="-6.4" font-size="11.5">8</tspan></text>
<line x1="70.5" y1="624.2" x2="70.5" y2="825.5" stroke="#6e6e6e" stroke-width="1.0" />
<line x1="67.3" y1="825.5" x2="70.5" y2="825.5" stroke="#6e6e6e" stroke-width="1.0" />
<line x1="67.3" y1="764.5" x2="70.5" y2="764.5" stroke="#6e6e6e" stroke-width="1.0" />
<line x1="67.3" y1="703.5" x2="70.5" y2="703.5" stroke="#6e6e6e" stroke-width="1.0" />
<line x1="67.3" y1="642.5" x2="70.5" y2="642.5" stroke="#6e6e6e" stroke-width="1.0" />
<line x1="68.8" y1="807.14" x2="70.5" y2="807.14" stroke="#6e6e6e" stroke-width="1.0" />
<line x1="68.8" y1="796.4" x2="70.5" y2="796.4" stroke="#6e6e6e" stroke-width="1.0" />
<line x1="68.8" y1="788.77" x2="70.5" y2="788.77" stroke="#6e6e6e" stroke-width="1.0" />
<line x1="68.8" y1="782.86" x2="70.5" y2="782.86" stroke="#6e6e6e" stroke-width="1.0" />
<line x1="68.8" y1="778.03" x2="70.5" y2="778.03" stroke="#6e6e6e" stroke-width="1.0" />
<line x1="68.8" y1="773.95" x2="70.5" y2="773.95" stroke="#6e6e6e" stroke-width="1.0" />
<line x1="68.8" y1="770.41" x2="70.5" y2="770.41" stroke="#6e6e6e" stroke-width="1.0" />
<line x1="68.8" y1="767.29" x2="70.5" y2="767.29" stroke="#6e6e6e" stroke-width="1.0" />
<line x1="68.8" y1="746.14" x2="70.5" y2="746.14" stroke="#6e6e6e" stroke-width="1.0" />
<line x1="68.8" y1="735.4" x2="70.5" y2="735.4" stroke="#6e6e6e" stroke-width="1.0" />
<line x1="68.8" y1="727.77" x2="70.5" y2="727.77" stroke="#6e6e6e" stroke-width="1.0" />
<line x1="68.8" y1="721.86" x2="70.5" y2="721.86" stroke="#6e6e6e" stroke-width="1.0" />
<line x1="68.8" y1="717.03" x2="70.5" y2="717.03" stroke="#6e6e6e" stroke-width="1.0" />
<line x1="68.8" y1="712.95" x2="70.5" y2="712.95" stroke="#6e6e6e" stroke-width="1.0" />
<line x1="68.8" y1="709.41" x2="70.5" y2="709.41" stroke="#6e6e6e" stroke-width="1.0" />
<line x1="68.8" y1="706.29" x2="70.5" y2="706.29" stroke="#6e6e6e" stroke-width="1.0" />
<line x1="68.8" y1="685.14" x2="70.5" y2="685.14" stroke="#6e6e6e" stroke-width="1.0" />
<line x1="68.8" y1="674.4" x2="70.5" y2="674.4" stroke="#6e6e6e" stroke-width="1.0" />
<line x1="68.8" y1="666.77" x2="70.5" y2="666.77" stroke="#6e6e6e" stroke-width="1.0" />
<line x1="68.8" y1="660.86" x2="70.5" y2="660.86" stroke="#6e6e6e" stroke-width="1.0" />
<line x1="68.8" y1="656.03" x2="70.5" y2="656.03" stroke="#6e6e6e" stroke-width="1.0" />
<line x1="68.8" y1="651.95" x2="70.5" y2="651.95" stroke="#6e6e6e" stroke-width="1.0" />
<line x1="68.8" y1="648.41" x2="70.5" y2="648.41" stroke="#6e6e6e" stroke-width="1.0" />
<line x1="68.8" y1="645.29" x2="70.5" y2="645.29" stroke="#6e6e6e" stroke-width="1.0" />
<line x1="68.8" y1="624.14" x2="70.5" y2="624.14" stroke="#6e6e6e" stroke-width="1.0" />
<text transform="translate(64.2,830.8) scale(0.89,1)" font-size="17.3" text-anchor="end" font-weight="normal" fill="#000" stroke="#000" stroke-width="0.3" >0.1</text>
<text transform="translate(64.2,769.8) scale(0.89,1)" font-size="17.3" text-anchor="end" font-weight="normal" fill="#000" stroke="#000" stroke-width="0.3" >1</text>
<text transform="translate(64.2,708.8) scale(0.89,1)" font-size="17.3" text-anchor="end" font-weight="normal" fill="#000" stroke="#000" stroke-width="0.3" >10</text>
<text transform="translate(64.2,647.8) scale(0.89,1)" font-size="17.3" text-anchor="end" font-weight="normal" fill="#000" stroke="#000" stroke-width="0.3" >100</text>
<text transform="translate(141.6,869.4) scale(0.99,1)" font-size="16" text-anchor="start" font-weight="normal" fill="#000" stroke="#000" stroke-width="0.3" >On/Off Ratio</text>
<text transform="translate(33.1,724) rotate(-90) scale(0.99,1)" x="0" y="0" font-size="16" text-anchor="middle" fill="#000" stroke="#000" stroke-width="0.3">Current Density (µA µm<tspan dy="-6.5" font-size="10.5">-1</tspan><tspan dy="6.5">)</tspan></text>
<rect x="112.4" y="678.7" width="8" height="8" fill="none" stroke="#62a8d6" stroke-width="1.9"/>
<polygon points="191.4,645 182.4,650.2 182.4,639.8" fill="none" stroke="#62a8d6" stroke-width="1.9" stroke-linejoin="miter"/>
<polygon points="264.8,628.1 266.92,634.19 273.36,634.32 268.22,638.21 270.09,644.38 264.8,640.7 259.51,644.38 261.38,638.21 256.24,634.32 262.68,634.19" fill="#ef3a44"/>
<rect x="219" y="655.3" width="9.6" height="9.6" fill="#62a8d6"/>
<rect x="257.3" y="665.3" width="9.6" height="9.6" fill="#62a8d6"/>
<polygon points="190.3,704.5 195.32,713.2 185.28,713.2" fill="none" stroke="#62a8d6" stroke-width="1.9" stroke-linejoin="miter"/>
<circle cx="248" cy="714.3" r="5.5" fill="#62a8d6"/>
<polygon points="280.5,711 291.15,704.85 291.15,717.15" fill="#62a8d6" stroke="none" stroke-width="0" stroke-linejoin="miter"/>
<polygon points="199.8,730.8 204.75,734.39 202.86,740.21 196.74,740.21 194.85,734.39" fill="none" stroke="#62a8d6" stroke-width="1.9" stroke-linejoin="miter"/>
<polygon points="134.7,789.5 129.1,795.1 123.5,789.5 129.1,783.9" fill="none" stroke="#62a8d6" stroke-width="1.9" stroke-linejoin="miter"/>
<circle cx="141.6" cy="788.2" r="4.2" fill="none" stroke="#62a8d6" stroke-width="1.9"/>
<polygon points="168.1,796 177.4,790.63 177.4,801.37" fill="none" stroke="#62a8d6" stroke-width="1.9" stroke-linejoin="miter"/>
<polygon points="234.6,801.9 238.93,804.4 238.93,809.4 234.6,811.9 230.27,809.4 230.27,804.4" fill="none" stroke="#62a8d6" stroke-width="1.9" stroke-linejoin="miter"/>
<text transform="translate(122.9,647.6) scale(0.925,1)" font-size="12.3" text-anchor="start" font-weight="normal" fill="#000" stroke="#000" stroke-width="0.12" >NO-doped</text>
<text transform="translate(91.1,668.6) scale(0.925,1)" font-size="12.3" text-anchor="start" font-weight="normal" fill="#000" stroke="#000" stroke-width="0.12" >Pd/Ti/Au</text>
<text transform="translate(173.8,677) scale(0.925,1)" font-size="12.3" text-anchor="start" font-weight="normal" fill="#000" stroke="#000" stroke-width="0.12" >transferred TiS<tspan dy="3.2" font-size="9">2</tspan><tspan dy="-3.2"></tspan></text>
<text transform="translate(123.8,698.5) scale(0.925,1)" font-size="12.3" text-anchor="start" font-weight="normal" fill="#000" stroke="#000" stroke-width="0.12" >1T' MoTe<tspan dy="3.2" font-size="9">2</tspan><tspan dy="-3.2">(transferred)/Au</tspan></text>
<text transform="translate(281.7,698.3) scale(0.925,1)" font-size="12.3" text-anchor="start" font-weight="normal" fill="#000" stroke="#000" stroke-width="0.12" >Ti</text>
<text transform="translate(219.4,733.4) scale(0.925,1)" font-size="12.3" text-anchor="start" font-weight="normal" fill="#000" stroke="#000" stroke-width="0.12" >Contact gate</text>
<text transform="translate(157.5,754.3) scale(0.925,1)" font-size="12.3" text-anchor="start" font-weight="normal" fill="#000" stroke="#000" stroke-width="0.12" >1T' MoTe<tspan dy="3.2" font-size="9">2</tspan><tspan dy="-3.2"> (edge)</tspan></text>
<text transform="translate(98,775.8) scale(0.925,1)" font-size="12.3" text-anchor="start" font-weight="normal" fill="#000" stroke="#000" stroke-width="0.12" >Pd/Au (Nb-doped)</text>
<text transform="translate(180.7,791) scale(0.925,1)" font-size="12.3" text-anchor="start" font-weight="normal" fill="#000" stroke="#000" stroke-width="0.12" >1T' MoTe<tspan dy="3.2" font-size="9">2</tspan><tspan dy="-3.2"> (edge)</tspan></text>
<text transform="translate(73.3,817.3) scale(0.925,1)" font-size="12.3" text-anchor="start" font-weight="normal" fill="#000" stroke="#000" stroke-width="0.12" >1T' MoTe<tspan dy="3.2" font-size="9">2</tspan><tspan dy="-3.2">/Ti/Au (edge)</tspan></text>
<text transform="translate(205.4,822.2) scale(0.925,1)" font-size="12.3" text-anchor="start" font-weight="normal" fill="#000" stroke="#000" stroke-width="0.12" >1T' MoTe<tspan dy="3.2" font-size="9">2</tspan><tspan dy="-3.2"> (edge)</tspan></text>
<text x="281" y="638.4" font-size="13.5" text-anchor="start" font-weight="bold" fill="#ef3a44" stroke="#ef3a44" stroke-width="0" >This</text>
<text x="281" y="655.3" font-size="13.5" text-anchor="start" font-weight="bold" fill="#ef3a44" stroke="#ef3a44" stroke-width="0" >Work</text>
<text x="362" y="606.5" font-size="17" text-anchor="start" font-weight="bold" fill="#000" stroke="#000" stroke-width="0.3" >h</text>
<line x1="427.4" y1="826.5" x2="659.7" y2="826.5" stroke="#6e6e6e" stroke-width="1.0" />
<line x1="457.35" y1="826.5" x2="457.35" y2="829.7" stroke="#6e6e6e" stroke-width="1.0" />
<line x1="506.2" y1="826.5" x2="506.2" y2="829.7" stroke="#6e6e6e" stroke-width="1.0" />
<line x1="555.05" y1="826.5" x2="555.05" y2="829.7" stroke="#6e6e6e" stroke-width="1.0" />
<line x1="603.9" y1="826.5" x2="603.9" y2="829.7" stroke="#6e6e6e" stroke-width="1.0" />
<line x1="652.75" y1="826.5" x2="652.75" y2="829.7" stroke="#6e6e6e" stroke-width="1.0" />
<line x1="431.81" y1="826.5" x2="431.81" y2="828.2" stroke="#6e6e6e" stroke-width="1.0" />
<line x1="437.91" y1="826.5" x2="437.91" y2="828.2" stroke="#6e6e6e" stroke-width="1.0" />
<line x1="442.64" y1="826.5" x2="442.64" y2="828.2" stroke="#6e6e6e" stroke-width="1.0" />
<line x1="446.51" y1="826.5" x2="446.51" y2="828.2" stroke="#6e6e6e" stroke-width="1.0" />
<line x1="449.78" y1="826.5" x2="449.78" y2="828.2" stroke="#6e6e6e" stroke-width="1.0" />
<line x1="452.62" y1="826.5" x2="452.62" y2="828.2" stroke="#6e6e6e" stroke-width="1.0" />
<line x1="455.11" y1="826.5" x2="455.11" y2="828.2" stroke="#6e6e6e" stroke-width="1.0" />
<line x1="472.06" y1="826.5" x2="472.06" y2="828.2" stroke="#6e6e6e" stroke-width="1.0" />
<line x1="480.66" y1="826.5" x2="480.66" y2="828.2" stroke="#6e6e6e" stroke-width="1.0" />
<line x1="486.76" y1="826.5" x2="486.76" y2="828.2" stroke="#6e6e6e" stroke-width="1.0" />
<line x1="491.49" y1="826.5" x2="491.49" y2="828.2" stroke="#6e6e6e" stroke-width="1.0" />
<line x1="495.36" y1="826.5" x2="495.36" y2="828.2" stroke="#6e6e6e" stroke-width="1.0" />
<line x1="498.63" y1="826.5" x2="498.63" y2="828.2" stroke="#6e6e6e" stroke-width="1.0" />
<line x1="501.47" y1="826.5" x2="501.47" y2="828.2" stroke="#6e6e6e" stroke-width="1.0" />
<line x1="503.96" y1="826.5" x2="503.96" y2="828.2" stroke="#6e6e6e" stroke-width="1.0" />
<line x1="520.91" y1="826.5" x2="520.91" y2="828.2" stroke="#6e6e6e" stroke-width="1.0" />
<line x1="529.51" y1="826.5" x2="529.51" y2="828.2" stroke="#6e6e6e" stroke-width="1.0" />
<line x1="535.61" y1="826.5" x2="535.61" y2="828.2" stroke="#6e6e6e" stroke-width="1.0" />
<line x1="540.34" y1="826.5" x2="540.34" y2="828.2" stroke="#6e6e6e" stroke-width="1.0" />
<line x1="544.21" y1="826.5" x2="544.21" y2="828.2" stroke="#6e6e6e" stroke-width="1.0" />
<line x1="547.48" y1="826.5" x2="547.48" y2="828.2" stroke="#6e6e6e" stroke-width="1.0" />
<line x1="550.32" y1="826.5" x2="550.32" y2="828.2" stroke="#6e6e6e" stroke-width="1.0" />
<line x1="552.81" y1="826.5" x2="552.81" y2="828.2" stroke="#6e6e6e" stroke-width="1.0" />
<line x1="569.76" y1="826.5" x2="569.76" y2="828.2" stroke="#6e6e6e" stroke-width="1.0" />
<line x1="578.36" y1="826.5" x2="578.36" y2="828.2" stroke="#6e6e6e" stroke-width="1.0" />
<line x1="584.46" y1="826.5" x2="584.46" y2="828.2" stroke="#6e6e6e" stroke-width="1.0" />
<line x1="589.19" y1="826.5" x2="589.19" y2="828.2" stroke="#6e6e6e" stroke-width="1.0" />
<line x1="593.06" y1="826.5" x2="593.06" y2="828.2" stroke="#6e6e6e" stroke-width="1.0" />
<line x1="596.33" y1="826.5" x2="596.33" y2="828.2" stroke="#6e6e6e" stroke-width="1.0" />
<line x1="599.17" y1="826.5" x2="599.17" y2="828.2" stroke="#6e6e6e" stroke-width="1.0" />
<line x1="601.66" y1="826.5" x2="601.66" y2="828.2" stroke="#6e6e6e" stroke-width="1.0" />
<line x1="618.61" y1="826.5" x2="618.61" y2="828.2" stroke="#6e6e6e" stroke-width="1.0" />
<line x1="627.21" y1="826.5" x2="627.21" y2="828.2" stroke="#6e6e6e" stroke-width="1.0" />
<line x1="633.31" y1="826.5" x2="633.31" y2="828.2" stroke="#6e6e6e" stroke-width="1.0" />
<line x1="638.04" y1="826.5" x2="638.04" y2="828.2" stroke="#6e6e6e" stroke-width="1.0" />
<line x1="641.91" y1="826.5" x2="641.91" y2="828.2" stroke="#6e6e6e" stroke-width="1.0" />
<line x1="645.18" y1="826.5" x2="645.18" y2="828.2" stroke="#6e6e6e" stroke-width="1.0" />
<line x1="648.02" y1="826.5" x2="648.02" y2="828.2" stroke="#6e6e6e" stroke-width="1.0" />
<line x1="650.51" y1="826.5" x2="650.51" y2="828.2" stroke="#6e6e6e" stroke-width="1.0" />
<text transform="translate(457.35,845.5) scale(0.89,1)" font-size="17.3" text-anchor="middle" font-weight="normal" fill="#000" stroke="#000" stroke-width="0.3" >0.1</text>
<text transform="translate(506.2,845.5) scale(0.89,1)" font-size="17.3" text-anchor="middle" font-weight="normal" fill="#000" stroke="#000" stroke-width="0.3" >1</text>
<text transform="translate(555.05,845.5) scale(0.89,1)" font-size="17.3" text-anchor="middle" font-weight="normal" fill="#000" stroke="#000" stroke-width="0.3" >10</text>
<text transform="translate(603.9,845.5) scale(0.89,1)" font-size="17.3" text-anchor="middle" font-weight="normal" fill="#000" stroke="#000" stroke-width="0.3" >100</text>
<text transform="translate(652.75,845.5) scale(0.89,1)" font-size="17.3" text-anchor="middle" font-weight="normal" fill="#000" stroke="#000" stroke-width="0.3" >1000</text>
<line x1="431" y1="625.7" x2="431" y2="826.5" stroke="#6e6e6e" stroke-width="1.0" />
<line x1="427.8" y1="809.7" x2="431" y2="809.7" stroke="#6e6e6e" stroke-width="1.0" />
<line x1="427.8" y1="755.8" x2="431" y2="755.8" stroke="#6e6e6e" stroke-width="1.0" />
<line x1="427.8" y1="701.9" x2="431" y2="701.9" stroke="#6e6e6e" stroke-width="1.0" />
<line x1="427.8" y1="648" x2="431" y2="648" stroke="#6e6e6e" stroke-width="1.0" />
<line x1="429.3" y1="825.93" x2="431" y2="825.93" stroke="#6e6e6e" stroke-width="1.0" />
<line x1="429.3" y1="821.66" x2="431" y2="821.66" stroke="#6e6e6e" stroke-width="1.0" />
<line x1="429.3" y1="818.05" x2="431" y2="818.05" stroke="#6e6e6e" stroke-width="1.0" />
<line x1="429.3" y1="814.92" x2="431" y2="814.92" stroke="#6e6e6e" stroke-width="1.0" />
<line x1="429.3" y1="812.17" x2="431" y2="812.17" stroke="#6e6e6e" stroke-width="1.0" />
<line x1="429.3" y1="793.47" x2="431" y2="793.47" stroke="#6e6e6e" stroke-width="1.0" />
<line x1="429.3" y1="783.98" x2="431" y2="783.98" stroke="#6e6e6e" stroke-width="1.0" />
<line x1="429.3" y1="777.25" x2="431" y2="777.25" stroke="#6e6e6e" stroke-width="1.0" />
<line x1="429.3" y1="772.03" x2="431" y2="772.03" stroke="#6e6e6e" stroke-width="1.0" />
<line x1="429.3" y1="767.76" x2="431" y2="767.76" stroke="#6e6e6e" stroke-width="1.0" />
<line x1="429.3" y1="764.15" x2="431" y2="764.15" stroke="#6e6e6e" stroke-width="1.0" />
<line x1="429.3" y1="761.02" x2="431" y2="761.02" stroke="#6e6e6e" stroke-width="1.0" />
<line x1="429.3" y1="758.27" x2="431" y2="758.27" stroke="#6e6e6e" stroke-width="1.0" />
<line x1="429.3" y1="739.57" x2="431" y2="739.57" stroke="#6e6e6e" stroke-width="1.0" />
<line x1="429.3" y1="730.08" x2="431" y2="730.08" stroke="#6e6e6e" stroke-width="1.0" />
<line x1="429.3" y1="723.35" x2="431" y2="723.35" stroke="#6e6e6e" stroke-width="1.0" />
<line x1="429.3" y1="718.13" x2="431" y2="718.13" stroke="#6e6e6e" stroke-width="1.0" />
<line x1="429.3" y1="713.86" x2="431" y2="713.86" stroke="#6e6e6e" stroke-width="1.0" />
<line x1="429.3" y1="710.25" x2="431" y2="710.25" stroke="#6e6e6e" stroke-width="1.0" />
<line x1="429.3" y1="707.12" x2="431" y2="707.12" stroke="#6e6e6e" stroke-width="1.0" />
<line x1="429.3" y1="704.37" x2="431" y2="704.37" stroke="#6e6e6e" stroke-width="1.0" />
<line x1="429.3" y1="685.67" x2="431" y2="685.67" stroke="#6e6e6e" stroke-width="1.0" />
<line x1="429.3" y1="676.18" x2="431" y2="676.18" stroke="#6e6e6e" stroke-width="1.0" />
<line x1="429.3" y1="669.45" x2="431" y2="669.45" stroke="#6e6e6e" stroke-width="1.0" />
<line x1="429.3" y1="664.23" x2="431" y2="664.23" stroke="#6e6e6e" stroke-width="1.0" />
<line x1="429.3" y1="659.96" x2="431" y2="659.96" stroke="#6e6e6e" stroke-width="1.0" />
<line x1="429.3" y1="656.35" x2="431" y2="656.35" stroke="#6e6e6e" stroke-width="1.0" />
<line x1="429.3" y1="653.22" x2="431" y2="653.22" stroke="#6e6e6e" stroke-width="1.0" />
<line x1="429.3" y1="650.47" x2="431" y2="650.47" stroke="#6e6e6e" stroke-width="1.0" />
<line x1="429.3" y1="631.77" x2="431" y2="631.77" stroke="#6e6e6e" stroke-width="1.0" />
<text transform="translate(425,815) scale(0.89,1)" font-size="17.3" text-anchor="end" font-weight="normal" fill="#000" stroke="#000" stroke-width="0.3" >1</text>
<text transform="translate(425,761.1) scale(0.89,1)" font-size="17.3" text-anchor="end" font-weight="normal" fill="#000" stroke="#000" stroke-width="0.3" >10</text>
<text transform="translate(425,707.2) scale(0.89,1)" font-size="17.3" text-anchor="end" font-weight="normal" fill="#000" stroke="#000" stroke-width="0.3" >100</text>
<text transform="translate(425,653.3) scale(0.89,1)" font-size="17.3" text-anchor="end" font-weight="normal" fill="#000" stroke="#000" stroke-width="0.3" >1000</text>
<text transform="translate(447.3,871.7) scale(0.99,1)" font-size="16" text-anchor="start" font-weight="normal" fill="#000" stroke="#000" stroke-width="0.3" >Contact Resistance (kΩ µm)</text>
<text transform="translate(384.5,724) rotate(-90) scale(0.99,1)" x="0" y="0" font-size="16" text-anchor="middle" fill="#000" stroke="#000" stroke-width="0.3">Current Density (µA µm<tspan dy="-6.5" font-size="10.5">-1</tspan><tspan dy="6.5">)</tspan></text>
<rect x="433.5" y="626" width="9" height="9" fill="#efc775"/>
<circle cx="490.6" cy="637.3" r="5.35" fill="#efc775"/>
<circle cx="490.6" cy="645" r="5.35" fill="#efc775"/>
<polygon points="514.4,688.2 516.52,694.29 522.96,694.42 517.82,698.31 519.69,704.48 514.4,700.8 509.11,704.48 510.98,698.31 505.84,694.42 512.28,694.29" fill="#ef3a44"/>
<polygon points="532,711.9 537.99,716.25 535.7,723.3 528.3,723.3 526.01,716.25" fill="#efc775" stroke="none" stroke-width="0" stroke-linejoin="miter"/>
<polygon points="536.5,734.2 531.3,739.4 526.1,734.2 531.3,729" fill="none" stroke="#efc775" stroke-width="1.9" stroke-linejoin="miter"/>
<polygon points="509.3,755.3 514.67,764.6 503.93,764.6" fill="none" stroke="#62a8d6" stroke-width="1.9" stroke-linejoin="miter"/>
<polygon points="627.7,762.5 621.1,769.1 614.5,762.5 621.1,755.9" fill="#efc775" stroke="none" stroke-width="0" stroke-linejoin="miter"/>
<circle cx="651.8" cy="765.8" r="5.4" fill="#62a8d6"/>
<polygon points="561.8,779 567.13,782.87 565.09,789.13 558.51,789.13 556.47,782.87" fill="none" stroke="#62a8d6" stroke-width="1.9" stroke-linejoin="miter"/>
<circle cx="620.7" cy="779.6" r="4.15" fill="none" stroke="#efc775" stroke-width="1.9"/>
<polygon points="577.8,809.8 583.08,812.85 583.08,818.95 577.8,822 572.52,818.95 572.52,812.85" fill="#efc775" stroke="none" stroke-width="0" stroke-linejoin="miter"/>
<text transform="translate(433.3,618.8) scale(0.925,1)" font-size="12.3" text-anchor="start" font-weight="normal" fill="#000" stroke="#000" stroke-width="0.12" >vdW epitaxial SnS<tspan dy="3.2" font-size="9">2</tspan><tspan dy="-3.2"> 20 nm</tspan></text>
<text transform="translate(439.3,663.3) scale(0.925,1)" font-size="12.3" text-anchor="start" font-weight="normal" fill="#000" stroke="#000" stroke-width="0.12" >VSe<tspan dy="3.2" font-size="9">2</tspan><tspan dy="-3.2"> 20 nm, 76 nm</tspan></text>
<text transform="translate(439.3,680.3) scale(0.925,1)" font-size="12.3" text-anchor="start" font-weight="normal" fill="#000" stroke="#000" stroke-width="0.12" >(<tspan font-style="italic">R</tspan><tspan dy="3" font-size="8.5">on</tspan><tspan dy="-3">)</tspan></text>
<text x="524.9" y="693.1" font-size="13.5" text-anchor="start" font-weight="bold" fill="#ef3a44" stroke="#ef3a44" stroke-width="0" >This work 130 nm</text>
<text transform="translate(433.3,726.5) scale(0.925,1)" font-size="12.3" text-anchor="start" font-weight="normal" fill="#000" stroke="#000" stroke-width="0.12" >dry transferred Pt</text>
<text transform="translate(535.8,752.1) scale(0.925,1)" font-size="12.3" text-anchor="start" font-weight="normal" fill="#000" stroke="#000" stroke-width="0.12" >van der Waals Pt</text>
<text transform="translate(431.8,775.3) scale(0.925,1)" font-size="12.3" text-anchor="start" font-weight="normal" fill="#000" stroke="#000" stroke-width="0.12" >1T' MoTe<tspan dy="3.2" font-size="9">2</tspan><tspan dy="-3.2"> (transferred)/Au</tspan></text>
<text transform="translate(589,784.7) scale(0.925,1)" font-size="12.3" text-anchor="start" font-weight="normal" fill="#000" stroke="#000" stroke-width="0.12" >In/Pd</text>
<text transform="translate(634.5,785.2) scale(0.925,1)" font-size="12.3" text-anchor="start" font-weight="normal" fill="#000" stroke="#000" stroke-width="0.12" >Contact</text>
<text transform="translate(634.5,798.5) scale(0.925,1)" font-size="12.3" text-anchor="start" font-weight="normal" fill="#000" stroke="#000" stroke-width="0.12" >gate</text>
<text transform="translate(511.5,801.8) scale(0.925,1)" font-size="12.3" text-anchor="start" font-weight="normal" fill="#000" stroke="#000" stroke-width="0.12" >1T' MoTe<tspan dy="3.2" font-size="9">2</tspan><tspan dy="-3.2"> (edge)</tspan></text>
<text transform="translate(589.3,820) scale(0.925,1)" font-size="12.3" text-anchor="start" font-weight="normal" fill="#000" stroke="#000" stroke-width="0.12" >MoO<tspan dy="3.2" font-size="9">3</tspan><tspan dy="-3.2">/Pd</tspan></text>
</svg></body></html>
